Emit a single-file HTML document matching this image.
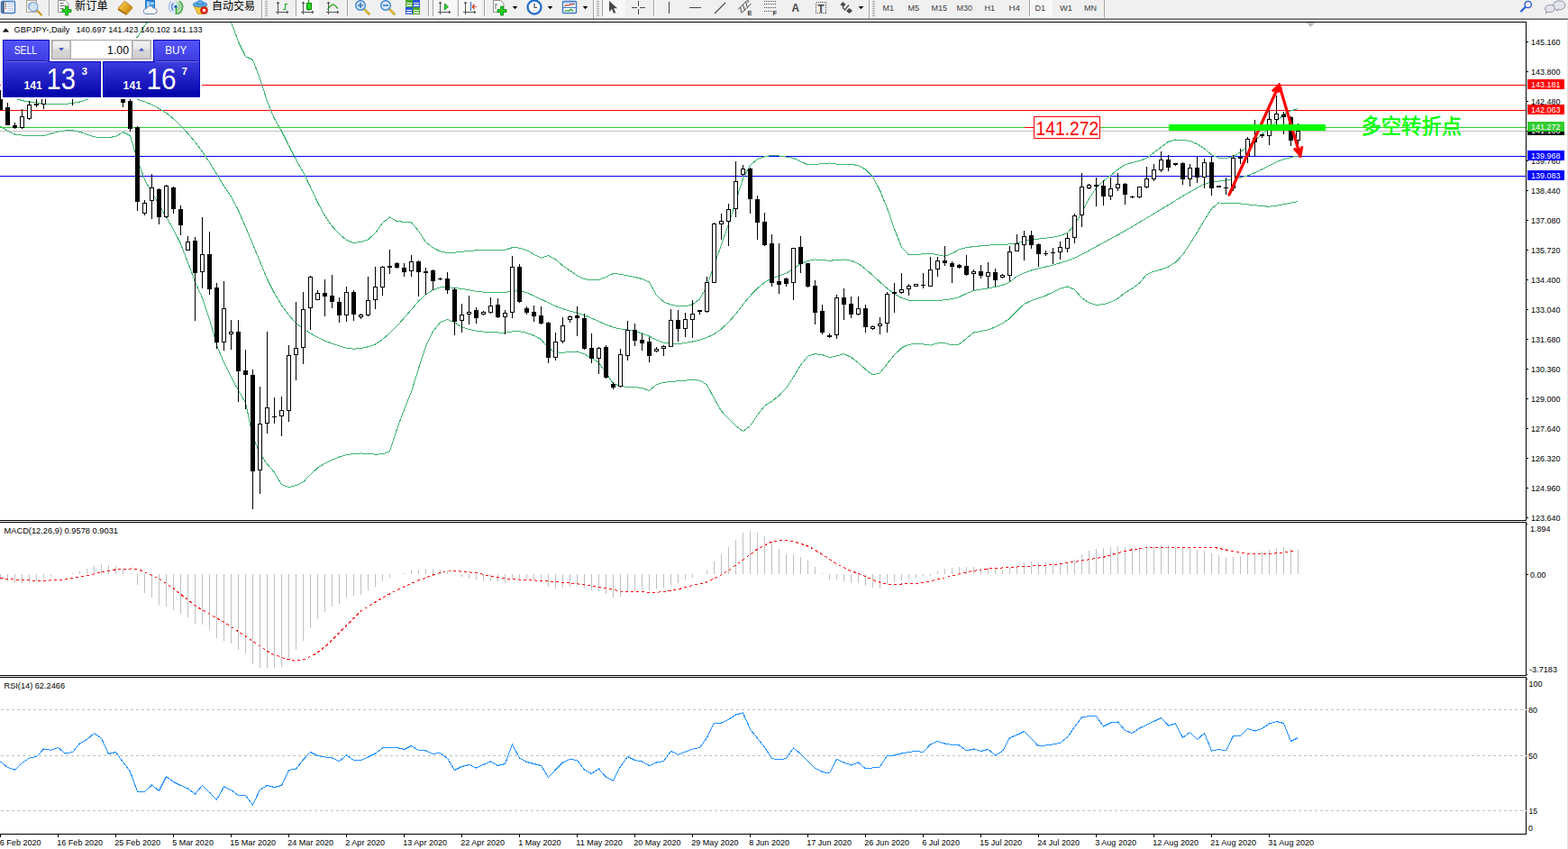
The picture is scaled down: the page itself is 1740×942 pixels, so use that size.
<!DOCTYPE html>
<html><head><meta charset="utf-8"><title>GBPJPY Daily</title>
<style>
html,body{margin:0;padding:0;background:#fff;}
body{width:1740px;height:942px;overflow:hidden;font-family:"Liberation Sans",sans-serif;}
svg{display:block;position:absolute;left:0;top:0;}
svg text{font-family:"Liberation Sans",sans-serif;}
</style></head><body>
<svg width="1740" height="942" viewBox="0 0 1740 942">
<rect x="0" y="0" width="1740" height="942" fill="#ffffff" />
<g shape-rendering="crispEdges">
<rect x="0" y="94" width="1694" height="1" fill="#ff0000"/>
<rect x="0" y="122" width="1694" height="1" fill="#ff0000"/>
<rect x="0" y="141" width="1694" height="1" fill="#32cd32"/>
<rect x="0" y="145" width="1694" height="1" fill="#c0c0c0"/>
<rect x="0" y="173" width="1694" height="1" fill="#0000ff"/>
<rect x="0" y="195" width="1694" height="1" fill="#0000ff"/>
<polyline points="0.5,66.5 8.5,66.5 16.5,66.4 24.5,66.2 32.5,65.9 40.5,65.5 48.5,65.0 56.5,64.4 64.5,63.7 72.5,62.8 80.5,61.8 88.5,60.6 96.5,59.2 104.5,57.6 112.5,55.9 120.5,53.9 128.5,51.7 136.5,49.3 144.5,46.6 152.5,41.2 160.5,28.7 164.0,24.5" fill="none" stroke="#3cb371" stroke-width="1" />
<polyline points="256.5,24.5 264.5,46.4 272.5,62.6 280.5,66.5 288.5,87.0 296.5,112.5 304.5,131.7 312.5,145.4 320.5,161.6 328.5,177.3 336.5,191.1 344.5,207.6 352.5,224.6 360.5,239.5 368.5,251.0 376.5,259.6 384.5,266.5 392.5,269.5 400.5,268.4 408.5,265.8 416.5,258.7 424.5,247.4 432.5,241.0 440.5,245.5 448.5,246.3 456.5,247.0 464.5,256.3 472.5,268.8 480.5,274.9 488.5,279.0 496.5,280.4 504.5,280.2 512.5,279.3 520.5,278.3 528.5,277.9 536.5,277.8 544.5,277.7 552.5,277.6 560.5,277.3 568.5,274.7 576.5,275.1 584.5,277.7 592.5,282.1 600.5,286.1 608.5,283.5 616.5,287.9 624.5,294.8 632.5,300.3 640.5,305.9 648.5,309.8 656.5,310.5 664.5,310.5 672.5,307.3 680.5,303.5 688.5,304.3 696.5,305.9 704.5,307.5 712.5,309.5 720.5,313.0 728.5,327.8 736.5,334.9 744.5,338.3 752.5,339.5 760.5,340.0 768.5,337.7 776.5,331.9 784.5,317.4 792.5,294.2 800.5,271.5 808.5,248.7 816.5,223.7 824.5,197.9 832.5,183.2 840.5,176.7 848.5,173.6 856.5,172.5 864.5,173.0 872.5,174.1 880.5,175.5 888.5,179.2 896.5,182.9 904.5,182.6 912.5,181.6 920.5,181.0 928.5,182.1 936.5,183.0 944.5,182.2 952.5,183.8 960.5,188.0 968.5,196.2 976.5,211.3 984.5,231.0 992.5,254.2 1000.5,274.2 1008.5,282.9 1016.5,282.6 1024.5,281.7 1032.5,281.2 1040.5,282.7 1048.5,284.2 1056.5,281.2 1064.5,276.7 1072.5,274.7 1080.5,273.6 1088.5,272.8 1096.5,272.1 1104.5,271.7 1112.5,271.4 1120.5,270.9 1128.5,270.0 1136.5,267.5 1144.5,265.9 1152.5,265.1 1160.5,264.2 1168.5,263.1 1176.5,261.6 1184.5,258.4 1192.5,249.7 1200.5,235.5 1208.5,220.5 1216.5,208.5 1224.5,200.7 1232.5,194.6 1240.5,188.0 1248.5,182.8 1256.5,180.4 1264.5,178.5 1272.5,175.5 1280.5,169.3 1288.5,163.3 1296.5,157.3 1304.5,155.0 1312.5,155.5 1320.5,156.5 1328.5,159.8 1336.5,164.9 1344.5,171.9 1352.5,175.1 1360.5,175.5 1368.5,173.7 1376.5,168.6 1384.5,162.5 1392.5,155.5 1400.5,148.9 1408.5,142.2 1416.5,134.5 1424.5,127.1 1432.5,122.9 1440.5,120.5" fill="none" stroke="#3cb371" stroke-width="1" />
<polyline points="0.5,104.5 8.5,106.4 16.5,109.0 24.5,111.7 32.5,112.9 40.5,113.8 48.5,114.8 56.5,115.5 64.5,115.5 72.5,115.5 80.5,114.5 88.5,113.0 96.5,110.5 104.5,108.3 112.5,106.2 120.5,104.8 128.5,104.6 136.5,105.8 144.5,107.8 152.5,110.2 160.5,112.9 168.5,116.3 176.5,120.5 184.5,125.3 192.5,131.7 200.5,139.4 208.5,147.9 216.5,157.6 224.5,168.3 232.5,180.0 240.5,193.2 248.5,206.3 256.5,218.3 264.5,233.3 272.5,251.9 280.5,270.9 288.5,290.3 296.5,309.5 304.5,325.5 312.5,338.7 320.5,349.6 328.5,358.7 336.5,365.0 344.5,369.9 352.5,374.3 360.5,378.1 368.5,381.1 376.5,383.9 384.5,386.2 392.5,387.2 400.5,386.5 408.5,384.8 416.5,382.1 424.5,376.6 432.5,369.6 440.5,361.7 448.5,352.7 456.5,343.6 464.5,334.1 472.5,326.8 480.5,321.8 488.5,318.7 496.5,318.7 504.5,319.4 512.5,320.4 520.5,321.8 528.5,323.2 536.5,324.1 544.5,324.2 552.5,324.2 560.5,324.2 568.5,323.5 576.5,322.5 584.5,324.6 592.5,328.4 600.5,332.1 608.5,335.8 616.5,339.6 624.5,342.7 632.5,345.1 640.5,347.2 648.5,349.7 656.5,353.1 664.5,356.8 672.5,360.1 680.5,363.2 688.5,365.0 696.5,365.9 704.5,367.4 712.5,370.0 720.5,373.0 728.5,377.2 736.5,380.2 744.5,381.2 752.5,381.5 760.5,380.6 768.5,379.0 776.5,377.1 784.5,374.4 792.5,370.8 800.5,365.0 808.5,357.5 816.5,348.5 824.5,337.9 832.5,328.3 840.5,319.9 848.5,313.3 856.5,308.8 864.5,306.0 872.5,303.2 880.5,298.2 888.5,292.5 896.5,289.5 904.5,288.0 912.5,288.5 920.5,289.2 928.5,288.7 936.5,288.0 944.5,289.2 952.5,292.5 960.5,298.6 968.5,305.6 976.5,313.0 984.5,319.9 992.5,326.2 1000.5,330.5 1008.5,333.3 1016.5,333.5 1024.5,333.5 1032.5,333.5 1040.5,333.5 1048.5,332.8 1056.5,331.7 1064.5,329.5 1072.5,325.6 1080.5,322.5 1088.5,321.1 1096.5,319.9 1104.5,318.4 1112.5,316.5 1120.5,312.7 1128.5,306.6 1136.5,302.8 1144.5,300.0 1152.5,297.9 1160.5,296.0 1168.5,294.1 1176.5,291.7 1184.5,289.2 1192.5,286.2 1200.5,282.4 1208.5,278.0 1216.5,273.6 1224.5,269.3 1232.5,264.9 1240.5,260.5 1248.5,256.0 1256.5,251.4 1264.5,246.7 1272.5,241.9 1280.5,237.1 1288.5,232.2 1296.5,227.4 1304.5,222.5 1312.5,217.6 1320.5,213.0 1328.5,208.4 1336.5,204.3 1344.5,202.2 1352.5,201.1 1360.5,200.0 1368.5,198.6 1376.5,197.0 1384.5,194.8 1392.5,191.6 1400.5,188.0 1408.5,183.8 1416.5,179.6 1424.5,176.7 1432.5,174.5 1440.5,173.0" fill="none" stroke="#3cb371" stroke-width="1" />
<polyline points="0.5,140.2 8.5,145.3 16.5,149.0 24.5,150.1 32.5,150.5 40.5,150.8 48.5,150.9 56.5,148.3 64.5,146.1 72.5,145.0 80.5,144.7 88.5,146.3 96.5,149.1 104.5,151.8 112.5,153.0 120.5,152.6 128.5,151.4 136.5,146.5 144.5,150.5 152.5,177.4 160.5,199.3 168.5,213.4 176.5,226.9 184.5,240.7 192.5,254.7 200.5,270.5 208.5,291.4 216.5,312.9 224.5,330.5 232.5,354.1 240.5,383.0 248.5,402.3 256.5,418.3 264.5,433.1 272.5,446.6 280.5,484.5 288.5,503.7 296.5,514.9 304.5,524.1 312.5,537.6 320.5,540.5 328.5,538.7 336.5,534.9 344.5,526.6 352.5,519.1 360.5,514.1 368.5,510.3 376.5,507.0 384.5,504.7 392.5,503.5 400.5,503.0 408.5,503.4 416.5,504.1 424.5,503.9 432.5,500.8 440.5,476.0 448.5,454.4 456.5,434.6 464.5,409.1 472.5,384.1 480.5,367.6 488.5,357.7 496.5,354.5 504.5,357.7 512.5,363.0 520.5,365.5 528.5,367.1 536.5,368.1 544.5,368.6 552.5,369.0 560.5,369.2 568.5,368.0 576.5,367.7 584.5,369.3 592.5,372.4 600.5,376.5 608.5,386.3 616.5,390.8 624.5,391.3 632.5,390.5 640.5,390.0 648.5,392.9 656.5,397.3 664.5,402.2 672.5,414.0 680.5,425.5 688.5,428.5 696.5,429.4 704.5,429.7 712.5,430.5 720.5,433.5 728.5,426.6 736.5,424.4 744.5,423.5 752.5,422.8 760.5,422.1 768.5,421.6 776.5,422.1 784.5,426.9 792.5,442.2 800.5,456.1 808.5,464.6 816.5,472.4 824.5,478.5 832.5,472.5 840.5,460.5 848.5,450.3 856.5,445.3 864.5,438.9 872.5,430.6 880.5,418.4 888.5,405.2 896.5,395.1 904.5,392.7 912.5,393.6 920.5,396.7 928.5,394.9 936.5,392.7 944.5,396.3 952.5,402.6 960.5,410.0 968.5,415.8 976.5,413.9 984.5,403.5 992.5,393.7 1000.5,386.0 1008.5,382.1 1016.5,381.8 1024.5,381.9 1032.5,383.1 1040.5,380.8 1048.5,380.7 1056.5,382.9 1064.5,381.9 1072.5,375.5 1080.5,368.9 1088.5,367.5 1096.5,365.9 1104.5,362.9 1112.5,358.9 1120.5,353.2 1128.5,344.9 1136.5,337.4 1144.5,333.6 1152.5,330.8 1160.5,328.0 1168.5,324.1 1176.5,320.1 1184.5,318.0 1192.5,321.2 1200.5,330.7 1208.5,335.9 1216.5,338.4 1224.5,337.7 1232.5,335.3 1240.5,331.1 1248.5,324.8 1256.5,320.1 1264.5,314.0 1272.5,304.5 1280.5,301.1 1288.5,299.0 1296.5,296.0 1304.5,291.0 1312.5,282.7 1320.5,270.5 1328.5,257.8 1336.5,244.5 1344.5,231.6 1352.5,225.0 1360.5,225.1 1368.5,225.4 1376.5,225.9 1384.5,226.8 1392.5,227.7 1400.5,228.7 1408.5,229.2 1416.5,228.3 1424.5,226.7 1432.5,225.2 1440.5,223.5" fill="none" stroke="#3cb371" stroke-width="1" />
<rect x="0" y="100" width="1" height="22" fill="#000"/>
<rect x="-2" y="104" width="5" height="18" fill="#000" />
<rect x="8" y="114" width="1" height="25" fill="#000"/>
<rect x="6" y="119" width="5" height="20" fill="#000" />
<rect x="16" y="136" width="1" height="7" fill="#000"/>
<rect x="14" y="139" width="5" height="3" fill="#000" />
<rect x="24" y="121" width="1" height="22" fill="#000"/>
<rect x="22" y="129" width="5" height="13" fill="#000" />
<rect x="23" y="130" width="3" height="11" fill="#fff" />
<rect x="32" y="112" width="1" height="21" fill="#000"/>
<rect x="30" y="116" width="5" height="16" fill="#000" />
<rect x="31" y="117" width="3" height="14" fill="#fff" />
<rect x="40" y="105" width="1" height="14" fill="#000"/>
<rect x="38" y="115" width="5" height="2" fill="#000" />
<rect x="48" y="98" width="1" height="23" fill="#000"/>
<rect x="46" y="100" width="5" height="16" fill="#000" />
<rect x="47" y="101" width="3" height="14" fill="#fff" />
<rect x="80" y="98" width="1" height="19" fill="#000"/>
<rect x="78" y="100" width="5" height="2" fill="#000" />
<rect x="136" y="98" width="1" height="21" fill="#000"/>
<rect x="134" y="100" width="5" height="14" fill="#000" />
<rect x="144" y="105" width="1" height="41" fill="#000"/>
<rect x="142" y="112" width="5" height="31" fill="#000" />
<rect x="152" y="140" width="1" height="94" fill="#000"/>
<rect x="150" y="141" width="5" height="83" fill="#000" />
<rect x="160" y="222" width="1" height="17" fill="#000"/>
<rect x="158" y="225" width="5" height="12" fill="#000" />
<rect x="159" y="226" width="3" height="10" fill="#fff" />
<rect x="168" y="193" width="1" height="50" fill="#000"/>
<rect x="166" y="208" width="5" height="15" fill="#000" />
<rect x="167" y="209" width="3" height="13" fill="#fff" />
<rect x="176" y="209" width="1" height="40" fill="#000"/>
<rect x="174" y="210" width="5" height="31" fill="#000" />
<rect x="184" y="205" width="1" height="37" fill="#000"/>
<rect x="182" y="206" width="5" height="35" fill="#000" />
<rect x="183" y="207" width="3" height="33" fill="#fff" />
<rect x="192" y="207" width="1" height="30" fill="#000"/>
<rect x="190" y="208" width="5" height="24" fill="#000" />
<rect x="200" y="228" width="1" height="33" fill="#000"/>
<rect x="198" y="232" width="5" height="18" fill="#000" />
<rect x="208" y="262" width="1" height="16" fill="#000"/>
<rect x="206" y="268" width="5" height="10" fill="#000" />
<rect x="207" y="269" width="3" height="8" fill="#fff" />
<rect x="216" y="263" width="1" height="93" fill="#000"/>
<rect x="214" y="267" width="5" height="36" fill="#000" />
<rect x="224" y="241" width="1" height="79" fill="#000"/>
<rect x="222" y="282" width="5" height="20" fill="#000" />
<rect x="223" y="283" width="3" height="18" fill="#fff" />
<rect x="232" y="257" width="1" height="70" fill="#000"/>
<rect x="230" y="282" width="5" height="39" fill="#000" />
<rect x="240" y="314" width="1" height="73" fill="#000"/>
<rect x="238" y="319" width="5" height="61" fill="#000" />
<rect x="248" y="312" width="1" height="77" fill="#000"/>
<rect x="246" y="342" width="5" height="38" fill="#000" />
<rect x="247" y="343" width="3" height="36" fill="#fff" />
<rect x="256" y="355" width="1" height="33" fill="#000"/>
<rect x="254" y="368" width="5" height="3" fill="#000" />
<rect x="255" y="369" width="3" height="1" fill="#fff" />
<rect x="264" y="355" width="1" height="91" fill="#000"/>
<rect x="262" y="368" width="5" height="44" fill="#000" />
<rect x="272" y="388" width="1" height="66" fill="#000"/>
<rect x="270" y="411" width="5" height="5" fill="#000" />
<rect x="280" y="410" width="1" height="155" fill="#000"/>
<rect x="278" y="416" width="5" height="107" fill="#000" />
<rect x="288" y="429" width="1" height="119" fill="#000"/>
<rect x="286" y="470" width="5" height="52" fill="#000" />
<rect x="287" y="471" width="3" height="50" fill="#fff" />
<rect x="296" y="368" width="1" height="113" fill="#000"/>
<rect x="294" y="452" width="5" height="18" fill="#000" />
<rect x="295" y="453" width="3" height="16" fill="#fff" />
<rect x="304" y="441" width="1" height="29" fill="#000"/>
<rect x="302" y="462" width="5" height="1" fill="#000" />
<rect x="312" y="440" width="1" height="44" fill="#000"/>
<rect x="310" y="455" width="5" height="7" fill="#000" />
<rect x="311" y="456" width="3" height="5" fill="#fff" />
<rect x="320" y="383" width="1" height="85" fill="#000"/>
<rect x="318" y="394" width="5" height="62" fill="#000" />
<rect x="319" y="395" width="3" height="60" fill="#fff" />
<rect x="328" y="335" width="1" height="87" fill="#000"/>
<rect x="326" y="386" width="5" height="8" fill="#000" />
<rect x="327" y="387" width="3" height="6" fill="#fff" />
<rect x="336" y="324" width="1" height="80" fill="#000"/>
<rect x="334" y="343" width="5" height="43" fill="#000" />
<rect x="335" y="344" width="3" height="41" fill="#fff" />
<rect x="344" y="306" width="1" height="60" fill="#000"/>
<rect x="342" y="307" width="5" height="35" fill="#000" />
<rect x="343" y="308" width="3" height="33" fill="#fff" />
<rect x="352" y="322" width="1" height="11" fill="#000"/>
<rect x="350" y="325" width="5" height="8" fill="#000" />
<rect x="351" y="326" width="3" height="6" fill="#fff" />
<rect x="360" y="310" width="1" height="41" fill="#000"/>
<rect x="358" y="325" width="5" height="4" fill="#000" />
<rect x="368" y="305" width="1" height="37" fill="#000"/>
<rect x="366" y="328" width="5" height="7" fill="#000" />
<rect x="376" y="330" width="1" height="28" fill="#000"/>
<rect x="374" y="335" width="5" height="15" fill="#000" />
<rect x="384" y="318" width="1" height="39" fill="#000"/>
<rect x="382" y="324" width="5" height="26" fill="#000" />
<rect x="383" y="325" width="3" height="24" fill="#fff" />
<rect x="392" y="322" width="1" height="34" fill="#000"/>
<rect x="390" y="324" width="5" height="25" fill="#000" />
<rect x="400" y="348" width="1" height="6" fill="#000"/>
<rect x="398" y="349" width="5" height="3" fill="#000" />
<rect x="399" y="350" width="3" height="1" fill="#fff" />
<rect x="408" y="307" width="1" height="44" fill="#000"/>
<rect x="406" y="333" width="5" height="17" fill="#000" />
<rect x="407" y="334" width="3" height="15" fill="#fff" />
<rect x="416" y="296" width="1" height="47" fill="#000"/>
<rect x="414" y="318" width="5" height="15" fill="#000" />
<rect x="415" y="319" width="3" height="13" fill="#fff" />
<rect x="424" y="295" width="1" height="33" fill="#000"/>
<rect x="422" y="296" width="5" height="23" fill="#000" />
<rect x="423" y="297" width="3" height="21" fill="#fff" />
<rect x="432" y="277" width="1" height="27" fill="#000"/>
<rect x="430" y="295" width="5" height="2" fill="#000" />
<rect x="440" y="291" width="1" height="7" fill="#000"/>
<rect x="438" y="292" width="5" height="5" fill="#000" />
<rect x="448" y="292" width="1" height="15" fill="#000"/>
<rect x="446" y="297" width="5" height="5" fill="#000" />
<rect x="456" y="283" width="1" height="24" fill="#000"/>
<rect x="454" y="290" width="5" height="11" fill="#000" />
<rect x="455" y="291" width="3" height="9" fill="#fff" />
<rect x="464" y="289" width="1" height="40" fill="#000"/>
<rect x="462" y="290" width="5" height="12" fill="#000" />
<rect x="472" y="297" width="1" height="30" fill="#000"/>
<rect x="470" y="301" width="5" height="2" fill="#000" />
<rect x="480" y="299" width="1" height="23" fill="#000"/>
<rect x="478" y="300" width="5" height="12" fill="#000" />
<rect x="488" y="308" width="1" height="3" fill="#000"/>
<rect x="486" y="309" width="5" height="1" fill="#000" />
<rect x="496" y="302" width="1" height="24" fill="#000"/>
<rect x="494" y="309" width="5" height="13" fill="#000" />
<rect x="504" y="319" width="1" height="53" fill="#000"/>
<rect x="502" y="321" width="5" height="36" fill="#000" />
<rect x="512" y="337" width="1" height="32" fill="#000"/>
<rect x="510" y="349" width="5" height="7" fill="#000" />
<rect x="511" y="350" width="3" height="5" fill="#fff" />
<rect x="520" y="328" width="1" height="32" fill="#000"/>
<rect x="518" y="346" width="5" height="3" fill="#000" />
<rect x="519" y="347" width="3" height="1" fill="#fff" />
<rect x="528" y="341" width="1" height="18" fill="#000"/>
<rect x="526" y="344" width="5" height="9" fill="#000" />
<rect x="536" y="345" width="1" height="5" fill="#000"/>
<rect x="534" y="346" width="5" height="3" fill="#000" />
<rect x="535" y="347" width="3" height="1" fill="#fff" />
<rect x="544" y="330" width="1" height="18" fill="#000"/>
<rect x="542" y="339" width="5" height="8" fill="#000" />
<rect x="543" y="340" width="3" height="6" fill="#fff" />
<rect x="552" y="331" width="1" height="22" fill="#000"/>
<rect x="550" y="338" width="5" height="14" fill="#000" />
<rect x="560" y="344" width="1" height="27" fill="#000"/>
<rect x="558" y="347" width="5" height="5" fill="#000" />
<rect x="559" y="348" width="3" height="3" fill="#fff" />
<rect x="568" y="284" width="1" height="69" fill="#000"/>
<rect x="566" y="296" width="5" height="51" fill="#000" />
<rect x="567" y="297" width="3" height="49" fill="#fff" />
<rect x="576" y="293" width="1" height="43" fill="#000"/>
<rect x="574" y="296" width="5" height="39" fill="#000" />
<rect x="584" y="340" width="1" height="9" fill="#000"/>
<rect x="582" y="342" width="5" height="5" fill="#000" />
<rect x="592" y="339" width="1" height="18" fill="#000"/>
<rect x="590" y="346" width="5" height="5" fill="#000" />
<rect x="600" y="340" width="1" height="20" fill="#000"/>
<rect x="598" y="350" width="5" height="9" fill="#000" />
<rect x="608" y="357" width="1" height="46" fill="#000"/>
<rect x="606" y="358" width="5" height="39" fill="#000" />
<rect x="616" y="369" width="1" height="31" fill="#000"/>
<rect x="614" y="379" width="5" height="18" fill="#000" />
<rect x="615" y="380" width="3" height="16" fill="#fff" />
<rect x="624" y="352" width="1" height="29" fill="#000"/>
<rect x="622" y="361" width="5" height="18" fill="#000" />
<rect x="623" y="362" width="3" height="16" fill="#fff" />
<rect x="632" y="350" width="1" height="8" fill="#000"/>
<rect x="630" y="351" width="5" height="4" fill="#000" />
<rect x="631" y="352" width="3" height="2" fill="#fff" />
<rect x="640" y="340" width="1" height="33" fill="#000"/>
<rect x="638" y="350" width="5" height="3" fill="#000" />
<rect x="648" y="348" width="1" height="40" fill="#000"/>
<rect x="646" y="353" width="5" height="34" fill="#000" />
<rect x="656" y="370" width="1" height="33" fill="#000"/>
<rect x="654" y="386" width="5" height="12" fill="#000" />
<rect x="664" y="385" width="1" height="30" fill="#000"/>
<rect x="662" y="386" width="5" height="12" fill="#000" />
<rect x="663" y="387" width="3" height="10" fill="#fff" />
<rect x="672" y="383" width="1" height="37" fill="#000"/>
<rect x="670" y="385" width="5" height="34" fill="#000" />
<rect x="680" y="424" width="1" height="8" fill="#000"/>
<rect x="678" y="426" width="5" height="4" fill="#000" />
<rect x="688" y="387" width="1" height="43" fill="#000"/>
<rect x="686" y="393" width="5" height="36" fill="#000" />
<rect x="687" y="394" width="3" height="34" fill="#fff" />
<rect x="696" y="356" width="1" height="44" fill="#000"/>
<rect x="694" y="366" width="5" height="29" fill="#000" />
<rect x="695" y="367" width="3" height="27" fill="#fff" />
<rect x="704" y="359" width="1" height="25" fill="#000"/>
<rect x="702" y="366" width="5" height="12" fill="#000" />
<rect x="712" y="370" width="1" height="19" fill="#000"/>
<rect x="710" y="377" width="5" height="4" fill="#000" />
<rect x="720" y="374" width="1" height="28" fill="#000"/>
<rect x="718" y="379" width="5" height="16" fill="#000" />
<rect x="728" y="385" width="1" height="6" fill="#000"/>
<rect x="726" y="387" width="5" height="3" fill="#000" />
<rect x="727" y="388" width="3" height="1" fill="#fff" />
<rect x="736" y="383" width="1" height="12" fill="#000"/>
<rect x="734" y="384" width="5" height="3" fill="#000" />
<rect x="735" y="385" width="3" height="1" fill="#fff" />
<rect x="744" y="343" width="1" height="42" fill="#000"/>
<rect x="742" y="355" width="5" height="30" fill="#000" />
<rect x="743" y="356" width="3" height="28" fill="#fff" />
<rect x="752" y="344" width="1" height="35" fill="#000"/>
<rect x="750" y="355" width="5" height="10" fill="#000" />
<rect x="760" y="347" width="1" height="27" fill="#000"/>
<rect x="758" y="354" width="5" height="11" fill="#000" />
<rect x="759" y="355" width="3" height="9" fill="#fff" />
<rect x="768" y="333" width="1" height="42" fill="#000"/>
<rect x="766" y="348" width="5" height="7" fill="#000" />
<rect x="767" y="349" width="3" height="5" fill="#fff" />
<rect x="776" y="344" width="1" height="5" fill="#000"/>
<rect x="774" y="344" width="5" height="2" fill="#000" />
<rect x="784" y="307" width="1" height="40" fill="#000"/>
<rect x="782" y="313" width="5" height="33" fill="#000" />
<rect x="783" y="314" width="3" height="31" fill="#fff" />
<rect x="792" y="247" width="1" height="67" fill="#000"/>
<rect x="790" y="248" width="5" height="66" fill="#000" />
<rect x="791" y="249" width="3" height="64" fill="#fff" />
<rect x="800" y="237" width="1" height="29" fill="#000"/>
<rect x="798" y="245" width="5" height="4" fill="#000" />
<rect x="799" y="246" width="3" height="2" fill="#fff" />
<rect x="808" y="226" width="1" height="47" fill="#000"/>
<rect x="806" y="232" width="5" height="14" fill="#000" />
<rect x="807" y="233" width="3" height="12" fill="#fff" />
<rect x="816" y="179" width="1" height="62" fill="#000"/>
<rect x="814" y="201" width="5" height="31" fill="#000" />
<rect x="815" y="202" width="3" height="29" fill="#fff" />
<rect x="824" y="183" width="1" height="12" fill="#000"/>
<rect x="822" y="187" width="5" height="7" fill="#000" />
<rect x="823" y="188" width="3" height="5" fill="#fff" />
<rect x="832" y="186" width="1" height="51" fill="#000"/>
<rect x="830" y="187" width="5" height="34" fill="#000" />
<rect x="840" y="217" width="1" height="49" fill="#000"/>
<rect x="838" y="221" width="5" height="26" fill="#000" />
<rect x="848" y="236" width="1" height="37" fill="#000"/>
<rect x="846" y="246" width="5" height="26" fill="#000" />
<rect x="856" y="260" width="1" height="58" fill="#000"/>
<rect x="854" y="270" width="5" height="44" fill="#000" />
<rect x="864" y="270" width="1" height="56" fill="#000"/>
<rect x="862" y="312" width="5" height="4" fill="#000" />
<rect x="872" y="308" width="1" height="10" fill="#000"/>
<rect x="870" y="309" width="5" height="6" fill="#000" />
<rect x="880" y="275" width="1" height="58" fill="#000"/>
<rect x="878" y="275" width="5" height="39" fill="#000" />
<rect x="879" y="276" width="3" height="37" fill="#fff" />
<rect x="888" y="262" width="1" height="41" fill="#000"/>
<rect x="886" y="274" width="5" height="19" fill="#000" />
<rect x="896" y="292" width="1" height="27" fill="#000"/>
<rect x="894" y="292" width="5" height="26" fill="#000" />
<rect x="904" y="311" width="1" height="49" fill="#000"/>
<rect x="902" y="317" width="5" height="30" fill="#000" />
<rect x="912" y="338" width="1" height="33" fill="#000"/>
<rect x="910" y="345" width="5" height="24" fill="#000" />
<rect x="920" y="370" width="1" height="5" fill="#000"/>
<rect x="918" y="372" width="5" height="2" fill="#000" />
<rect x="928" y="327" width="1" height="49" fill="#000"/>
<rect x="926" y="330" width="5" height="42" fill="#000" />
<rect x="927" y="331" width="3" height="40" fill="#fff" />
<rect x="936" y="320" width="1" height="35" fill="#000"/>
<rect x="934" y="330" width="5" height="8" fill="#000" />
<rect x="944" y="329" width="1" height="24" fill="#000"/>
<rect x="942" y="337" width="5" height="12" fill="#000" />
<rect x="952" y="329" width="1" height="21" fill="#000"/>
<rect x="950" y="342" width="5" height="7" fill="#000" />
<rect x="951" y="343" width="3" height="5" fill="#fff" />
<rect x="960" y="338" width="1" height="31" fill="#000"/>
<rect x="958" y="342" width="5" height="21" fill="#000" />
<rect x="968" y="361" width="1" height="5" fill="#000"/>
<rect x="966" y="362" width="5" height="3" fill="#000" />
<rect x="967" y="363" width="3" height="1" fill="#fff" />
<rect x="976" y="352" width="1" height="19" fill="#000"/>
<rect x="974" y="359" width="5" height="3" fill="#000" />
<rect x="975" y="360" width="3" height="1" fill="#fff" />
<rect x="984" y="324" width="1" height="45" fill="#000"/>
<rect x="982" y="326" width="5" height="33" fill="#000" />
<rect x="983" y="327" width="3" height="31" fill="#fff" />
<rect x="992" y="314" width="1" height="33" fill="#000"/>
<rect x="990" y="324" width="5" height="2" fill="#000" />
<rect x="1000" y="303" width="1" height="23" fill="#000"/>
<rect x="998" y="321" width="5" height="4" fill="#000" />
<rect x="999" y="322" width="3" height="2" fill="#fff" />
<rect x="1008" y="315" width="1" height="13" fill="#000"/>
<rect x="1006" y="317" width="5" height="4" fill="#000" />
<rect x="1007" y="318" width="3" height="2" fill="#fff" />
<rect x="1016" y="315" width="1" height="3" fill="#000"/>
<rect x="1014" y="315" width="5" height="3" fill="#000" />
<rect x="1015" y="316" width="3" height="1" fill="#fff" />
<rect x="1024" y="303" width="1" height="17" fill="#000"/>
<rect x="1022" y="316" width="5" height="1" fill="#000" />
<rect x="1032" y="285" width="1" height="33" fill="#000"/>
<rect x="1030" y="299" width="5" height="19" fill="#000" />
<rect x="1031" y="300" width="3" height="17" fill="#fff" />
<rect x="1040" y="285" width="1" height="22" fill="#000"/>
<rect x="1038" y="289" width="5" height="10" fill="#000" />
<rect x="1039" y="290" width="3" height="8" fill="#fff" />
<rect x="1048" y="273" width="1" height="22" fill="#000"/>
<rect x="1046" y="289" width="5" height="3" fill="#000" />
<rect x="1056" y="290" width="1" height="24" fill="#000"/>
<rect x="1054" y="292" width="5" height="4" fill="#000" />
<rect x="1064" y="293" width="1" height="5" fill="#000"/>
<rect x="1062" y="294" width="5" height="3" fill="#000" />
<rect x="1072" y="283" width="1" height="23" fill="#000"/>
<rect x="1070" y="295" width="5" height="10" fill="#000" />
<rect x="1080" y="299" width="1" height="23" fill="#000"/>
<rect x="1078" y="301" width="5" height="3" fill="#000" />
<rect x="1079" y="302" width="3" height="1" fill="#fff" />
<rect x="1088" y="294" width="1" height="15" fill="#000"/>
<rect x="1086" y="301" width="5" height="5" fill="#000" />
<rect x="1096" y="291" width="1" height="29" fill="#000"/>
<rect x="1094" y="302" width="5" height="5" fill="#000" />
<rect x="1095" y="303" width="3" height="3" fill="#fff" />
<rect x="1104" y="298" width="1" height="20" fill="#000"/>
<rect x="1102" y="302" width="5" height="9" fill="#000" />
<rect x="1112" y="304" width="1" height="5" fill="#000"/>
<rect x="1110" y="305" width="5" height="3" fill="#000" />
<rect x="1111" y="306" width="3" height="1" fill="#fff" />
<rect x="1120" y="273" width="1" height="39" fill="#000"/>
<rect x="1118" y="279" width="5" height="27" fill="#000" />
<rect x="1119" y="280" width="3" height="25" fill="#fff" />
<rect x="1128" y="260" width="1" height="19" fill="#000"/>
<rect x="1126" y="270" width="5" height="9" fill="#000" />
<rect x="1127" y="271" width="3" height="7" fill="#fff" />
<rect x="1136" y="256" width="1" height="33" fill="#000"/>
<rect x="1134" y="262" width="5" height="10" fill="#000" />
<rect x="1135" y="263" width="3" height="8" fill="#fff" />
<rect x="1144" y="256" width="1" height="20" fill="#000"/>
<rect x="1142" y="261" width="5" height="11" fill="#000" />
<rect x="1152" y="270" width="1" height="26" fill="#000"/>
<rect x="1150" y="271" width="5" height="11" fill="#000" />
<rect x="1160" y="278" width="1" height="6" fill="#000"/>
<rect x="1158" y="281" width="5" height="1" fill="#000" />
<rect x="1168" y="275" width="1" height="18" fill="#000"/>
<rect x="1166" y="280" width="5" height="1" fill="#000" />
<rect x="1176" y="268" width="1" height="20" fill="#000"/>
<rect x="1174" y="274" width="5" height="6" fill="#000" />
<rect x="1175" y="275" width="3" height="4" fill="#fff" />
<rect x="1184" y="259" width="1" height="21" fill="#000"/>
<rect x="1182" y="264" width="5" height="12" fill="#000" />
<rect x="1183" y="265" width="3" height="10" fill="#fff" />
<rect x="1192" y="237" width="1" height="33" fill="#000"/>
<rect x="1190" y="239" width="5" height="25" fill="#000" />
<rect x="1191" y="240" width="3" height="23" fill="#fff" />
<rect x="1200" y="192" width="1" height="60" fill="#000"/>
<rect x="1198" y="207" width="5" height="32" fill="#000" />
<rect x="1199" y="208" width="3" height="30" fill="#fff" />
<rect x="1208" y="204" width="1" height="6" fill="#000"/>
<rect x="1206" y="205" width="5" height="4" fill="#000" />
<rect x="1207" y="206" width="3" height="2" fill="#fff" />
<rect x="1216" y="197" width="1" height="32" fill="#000"/>
<rect x="1214" y="205" width="5" height="2" fill="#000" />
<rect x="1224" y="200" width="1" height="28" fill="#000"/>
<rect x="1222" y="206" width="5" height="12" fill="#000" />
<rect x="1232" y="197" width="1" height="25" fill="#000"/>
<rect x="1230" y="209" width="5" height="9" fill="#000" />
<rect x="1231" y="210" width="3" height="7" fill="#fff" />
<rect x="1240" y="192" width="1" height="20" fill="#000"/>
<rect x="1238" y="204" width="5" height="5" fill="#000" />
<rect x="1239" y="205" width="3" height="3" fill="#fff" />
<rect x="1248" y="203" width="1" height="24" fill="#000"/>
<rect x="1246" y="204" width="5" height="12" fill="#000" />
<rect x="1256" y="217" width="1" height="3" fill="#000"/>
<rect x="1254" y="218" width="5" height="1" fill="#000" />
<rect x="1264" y="207" width="1" height="13" fill="#000"/>
<rect x="1262" y="207" width="5" height="12" fill="#000" />
<rect x="1263" y="208" width="3" height="10" fill="#fff" />
<rect x="1272" y="185" width="1" height="24" fill="#000"/>
<rect x="1270" y="198" width="5" height="10" fill="#000" />
<rect x="1271" y="199" width="3" height="8" fill="#fff" />
<rect x="1280" y="182" width="1" height="19" fill="#000"/>
<rect x="1278" y="188" width="5" height="11" fill="#000" />
<rect x="1279" y="189" width="3" height="9" fill="#fff" />
<rect x="1288" y="168" width="1" height="23" fill="#000"/>
<rect x="1286" y="177" width="5" height="12" fill="#000" />
<rect x="1287" y="178" width="3" height="10" fill="#fff" />
<rect x="1296" y="172" width="1" height="18" fill="#000"/>
<rect x="1294" y="177" width="5" height="9" fill="#000" />
<rect x="1304" y="181" width="1" height="3" fill="#000"/>
<rect x="1302" y="181" width="5" height="2" fill="#000" />
<rect x="1312" y="180" width="1" height="25" fill="#000"/>
<rect x="1310" y="181" width="5" height="18" fill="#000" />
<rect x="1320" y="182" width="1" height="25" fill="#000"/>
<rect x="1318" y="186" width="5" height="13" fill="#000" />
<rect x="1319" y="187" width="3" height="11" fill="#fff" />
<rect x="1328" y="174" width="1" height="29" fill="#000"/>
<rect x="1326" y="186" width="5" height="11" fill="#000" />
<rect x="1336" y="176" width="1" height="33" fill="#000"/>
<rect x="1334" y="180" width="5" height="17" fill="#000" />
<rect x="1335" y="181" width="3" height="15" fill="#fff" />
<rect x="1344" y="174" width="1" height="43" fill="#000"/>
<rect x="1342" y="180" width="5" height="29" fill="#000" />
<rect x="1352" y="206" width="1" height="2" fill="#000"/>
<rect x="1350" y="206" width="5" height="2" fill="#000" />
<rect x="1360" y="197" width="1" height="19" fill="#000"/>
<rect x="1358" y="208" width="5" height="1" fill="#000" />
<rect x="1368" y="172" width="1" height="40" fill="#000"/>
<rect x="1366" y="175" width="5" height="34" fill="#000" />
<rect x="1367" y="176" width="3" height="32" fill="#fff" />
<rect x="1376" y="165" width="1" height="17" fill="#000"/>
<rect x="1374" y="174" width="5" height="2" fill="#000" />
<rect x="1384" y="152" width="1" height="29" fill="#000"/>
<rect x="1382" y="154" width="5" height="20" fill="#000" />
<rect x="1383" y="155" width="3" height="18" fill="#fff" />
<rect x="1392" y="133" width="1" height="40" fill="#000"/>
<rect x="1390" y="153" width="5" height="5" fill="#000" />
<rect x="1400" y="149" width="1" height="4" fill="#000"/>
<rect x="1398" y="149" width="5" height="2" fill="#000" />
<rect x="1408" y="123" width="1" height="38" fill="#000"/>
<rect x="1406" y="132" width="5" height="19" fill="#000" />
<rect x="1407" y="133" width="3" height="17" fill="#fff" />
<rect x="1416" y="106" width="1" height="32" fill="#000"/>
<rect x="1414" y="126" width="5" height="7" fill="#000" />
<rect x="1415" y="127" width="3" height="5" fill="#fff" />
<rect x="1424" y="124" width="1" height="25" fill="#000"/>
<rect x="1422" y="127" width="5" height="3" fill="#000" />
<rect x="1432" y="129" width="1" height="33" fill="#000"/>
<rect x="1430" y="130" width="5" height="26" fill="#000" />
<rect x="1440" y="137" width="1" height="24" fill="#000"/>
<rect x="1438" y="145" width="5" height="11" fill="#000" />
<rect x="1439" y="146" width="3" height="9" fill="#fff" />
</g>
<g stroke="#ff0000" stroke-width="3.2" fill="#ff0000" stroke-linecap="round" stroke-linejoin="round">
<path d="M1364 216 L1419.5 94 L1443 173.5" fill="none"/>
<path d="M1419.5 92.5 L1411.3 100.3 L1412.8 102 L1417 99.3 L1418.5 103 L1422 98.5 Z" stroke-width="1"/>
<path d="M1443.5 174.3 L1435.6 165.6 L1436.8 164.3 L1441.3 167 L1444.3 162.6 L1445.8 163 Z" stroke-width="1.2"/>
</g>
<rect x="1297" y="138" width="174" height="7" fill="#00ff00" shape-rendering="crispEdges"/>
<g shape-rendering="crispEdges">
<rect x="1137" y="141" width="11" height="1" fill="#ff0000"/>
<rect x="1147" y="129" width="74" height="25" fill="#ffffff" />
<rect x="1147.5" y="129.5" width="73" height="24" fill="none" stroke="#ff0000" stroke-width="1"/>
</g>
<text x="1149.6" y="150" font-size="22.3" fill="#ff0000" text-anchor="start" font-weight="normal" textLength="69.5" lengthAdjust="spacingAndGlyphs" >141.272</text>
<g shape-rendering="crispEdges">
<rect x="0" y="24" width="1694" height="1" fill="#000"/>
<rect x="1693" y="24" width="1" height="554" fill="#000"/>
<rect x="0" y="577" width="1694" height="1" fill="#000"/>
<rect x="0" y="579" width="1694" height="1" fill="#000"/>
<rect x="1693" y="579" width="1" height="171" fill="#000"/>
<rect x="0" y="749" width="1694" height="1" fill="#000"/>
<rect x="0" y="751" width="1694" height="1" fill="#000"/>
<rect x="1693" y="751" width="1" height="175" fill="#000"/>
<rect x="0" y="925" width="1694" height="1" fill="#000"/>
<rect x="1694" y="46" width="2" height="1" fill="#000"/>
<rect x="1694" y="79" width="2" height="1" fill="#000"/>
<rect x="1694" y="112" width="2" height="1" fill="#000"/>
<rect x="1694" y="145" width="2" height="1" fill="#000"/>
<rect x="1694" y="178" width="2" height="1" fill="#000"/>
<rect x="1694" y="211" width="2" height="1" fill="#000"/>
<rect x="1694" y="244" width="2" height="1" fill="#000"/>
<rect x="1694" y="277" width="2" height="1" fill="#000"/>
<rect x="1694" y="310" width="2" height="1" fill="#000"/>
<rect x="1694" y="343" width="2" height="1" fill="#000"/>
<rect x="1694" y="376" width="2" height="1" fill="#000"/>
<rect x="1694" y="409" width="2" height="1" fill="#000"/>
<rect x="1694" y="442" width="2" height="1" fill="#000"/>
<rect x="1694" y="475" width="2" height="1" fill="#000"/>
<rect x="1694" y="508" width="2" height="1" fill="#000"/>
<rect x="1694" y="541" width="2" height="1" fill="#000"/>
<rect x="1694" y="574" width="2" height="1" fill="#000"/>
</g>
<text x="1699" y="50" font-size="9.6" fill="#000" text-anchor="start" font-weight="normal" textLength="32.5" lengthAdjust="spacingAndGlyphs" >145.160</text>
<text x="1699" y="83" font-size="9.6" fill="#000" text-anchor="start" font-weight="normal" textLength="32.5" lengthAdjust="spacingAndGlyphs" >143.800</text>
<text x="1699" y="116" font-size="9.6" fill="#000" text-anchor="start" font-weight="normal" textLength="32.5" lengthAdjust="spacingAndGlyphs" >142.480</text>
<text x="1699" y="149" font-size="9.6" fill="#000" text-anchor="start" font-weight="normal" textLength="32.5" lengthAdjust="spacingAndGlyphs" >141.120</text>
<text x="1699" y="182" font-size="9.6" fill="#000" text-anchor="start" font-weight="normal" textLength="32.5" lengthAdjust="spacingAndGlyphs" >139.760</text>
<text x="1699" y="215" font-size="9.6" fill="#000" text-anchor="start" font-weight="normal" textLength="32.5" lengthAdjust="spacingAndGlyphs" >138.440</text>
<text x="1699" y="248" font-size="9.6" fill="#000" text-anchor="start" font-weight="normal" textLength="32.5" lengthAdjust="spacingAndGlyphs" >137.080</text>
<text x="1699" y="281" font-size="9.6" fill="#000" text-anchor="start" font-weight="normal" textLength="32.5" lengthAdjust="spacingAndGlyphs" >135.720</text>
<text x="1699" y="314" font-size="9.6" fill="#000" text-anchor="start" font-weight="normal" textLength="32.5" lengthAdjust="spacingAndGlyphs" >134.400</text>
<text x="1699" y="347" font-size="9.6" fill="#000" text-anchor="start" font-weight="normal" textLength="32.5" lengthAdjust="spacingAndGlyphs" >133.040</text>
<text x="1699" y="380" font-size="9.6" fill="#000" text-anchor="start" font-weight="normal" textLength="32.5" lengthAdjust="spacingAndGlyphs" >131.680</text>
<text x="1699" y="413" font-size="9.6" fill="#000" text-anchor="start" font-weight="normal" textLength="32.5" lengthAdjust="spacingAndGlyphs" >130.360</text>
<text x="1699" y="446" font-size="9.6" fill="#000" text-anchor="start" font-weight="normal" textLength="32.5" lengthAdjust="spacingAndGlyphs" >129.000</text>
<text x="1699" y="479" font-size="9.6" fill="#000" text-anchor="start" font-weight="normal" textLength="32.5" lengthAdjust="spacingAndGlyphs" >127.640</text>
<text x="1699" y="512" font-size="9.6" fill="#000" text-anchor="start" font-weight="normal" textLength="32.5" lengthAdjust="spacingAndGlyphs" >126.320</text>
<text x="1699" y="545" font-size="9.6" fill="#000" text-anchor="start" font-weight="normal" textLength="32.5" lengthAdjust="spacingAndGlyphs" >124.960</text>
<text x="1699" y="578" font-size="9.6" fill="#000" text-anchor="start" font-weight="normal" textLength="32.5" lengthAdjust="spacingAndGlyphs" >123.640</text>
<rect x="1695" y="139" width="41" height="11" fill="#000000" shape-rendering="crispEdges"/>
<text x="1699" y="148" font-size="9.6" fill="#fff" text-anchor="start" font-weight="normal" textLength="32.5" lengthAdjust="spacingAndGlyphs" >141.133</text>
<rect x="1695" y="88" width="41" height="11" fill="#ff0000" shape-rendering="crispEdges"/>
<text x="1699" y="97" font-size="9.6" fill="#fff" text-anchor="start" font-weight="normal" textLength="32.5" lengthAdjust="spacingAndGlyphs" >143.181</text>
<rect x="1695" y="116" width="41" height="11" fill="#ff0000" shape-rendering="crispEdges"/>
<text x="1699" y="125" font-size="9.6" fill="#fff" text-anchor="start" font-weight="normal" textLength="32.5" lengthAdjust="spacingAndGlyphs" >142.063</text>
<rect x="1695" y="135" width="41" height="11" fill="#32cd32" shape-rendering="crispEdges"/>
<text x="1699" y="144" font-size="9.6" fill="#fff" text-anchor="start" font-weight="normal" textLength="32.5" lengthAdjust="spacingAndGlyphs" >141.272</text>
<rect x="1695" y="167" width="41" height="11" fill="#0000ff" shape-rendering="crispEdges"/>
<text x="1699" y="176" font-size="9.6" fill="#fff" text-anchor="start" font-weight="normal" textLength="32.5" lengthAdjust="spacingAndGlyphs" >139.968</text>
<rect x="1695" y="189" width="41" height="11" fill="#0000ff" shape-rendering="crispEdges"/>
<text x="1699" y="198" font-size="9.6" fill="#fff" text-anchor="start" font-weight="normal" textLength="32.5" lengthAdjust="spacingAndGlyphs" >139.083</text>
<g shape-rendering="crispEdges">
<rect x="0" y="637" width="1" height="6" fill="#c0c0c0"/>
<rect x="8" y="637" width="1" height="8" fill="#c0c0c0"/>
<rect x="16" y="637" width="1" height="10" fill="#c0c0c0"/>
<rect x="24" y="637" width="1" height="10" fill="#c0c0c0"/>
<rect x="32" y="637" width="1" height="9" fill="#c0c0c0"/>
<rect x="40" y="637" width="1" height="8" fill="#c0c0c0"/>
<rect x="48" y="637" width="1" height="5" fill="#c0c0c0"/>
<rect x="56" y="637" width="1" height="3" fill="#c0c0c0"/>
<rect x="80" y="636" width="1" height="1" fill="#c0c0c0"/>
<rect x="88" y="634" width="1" height="3" fill="#c0c0c0"/>
<rect x="96" y="631" width="1" height="6" fill="#c0c0c0"/>
<rect x="104" y="628" width="1" height="9" fill="#c0c0c0"/>
<rect x="112" y="626" width="1" height="11" fill="#c0c0c0"/>
<rect x="120" y="627" width="1" height="10" fill="#c0c0c0"/>
<rect x="128" y="628" width="1" height="9" fill="#c0c0c0"/>
<rect x="136" y="631" width="1" height="6" fill="#c0c0c0"/>
<rect x="144" y="636" width="1" height="1" fill="#c0c0c0"/>
<rect x="152" y="637" width="1" height="12" fill="#c0c0c0"/>
<rect x="160" y="637" width="1" height="21" fill="#c0c0c0"/>
<rect x="168" y="637" width="1" height="26" fill="#c0c0c0"/>
<rect x="176" y="637" width="1" height="34" fill="#c0c0c0"/>
<rect x="184" y="637" width="1" height="36" fill="#c0c0c0"/>
<rect x="192" y="637" width="1" height="40" fill="#c0c0c0"/>
<rect x="200" y="637" width="1" height="44" fill="#c0c0c0"/>
<rect x="208" y="637" width="1" height="48" fill="#c0c0c0"/>
<rect x="216" y="637" width="1" height="55" fill="#c0c0c0"/>
<rect x="224" y="637" width="1" height="56" fill="#c0c0c0"/>
<rect x="232" y="637" width="1" height="62" fill="#c0c0c0"/>
<rect x="240" y="637" width="1" height="71" fill="#c0c0c0"/>
<rect x="248" y="637" width="1" height="74" fill="#c0c0c0"/>
<rect x="256" y="637" width="1" height="77" fill="#c0c0c0"/>
<rect x="264" y="637" width="1" height="84" fill="#c0c0c0"/>
<rect x="272" y="637" width="1" height="88" fill="#c0c0c0"/>
<rect x="280" y="637" width="1" height="100" fill="#c0c0c0"/>
<rect x="288" y="637" width="1" height="104" fill="#c0c0c0"/>
<rect x="296" y="637" width="1" height="104" fill="#c0c0c0"/>
<rect x="304" y="637" width="1" height="104" fill="#c0c0c0"/>
<rect x="312" y="637" width="1" height="103" fill="#c0c0c0"/>
<rect x="320" y="637" width="1" height="93" fill="#c0c0c0"/>
<rect x="328" y="637" width="1" height="84" fill="#c0c0c0"/>
<rect x="336" y="637" width="1" height="74" fill="#c0c0c0"/>
<rect x="344" y="637" width="1" height="60" fill="#c0c0c0"/>
<rect x="352" y="637" width="1" height="50" fill="#c0c0c0"/>
<rect x="360" y="637" width="1" height="42" fill="#c0c0c0"/>
<rect x="368" y="637" width="1" height="36" fill="#c0c0c0"/>
<rect x="376" y="637" width="1" height="33" fill="#c0c0c0"/>
<rect x="384" y="637" width="1" height="26" fill="#c0c0c0"/>
<rect x="392" y="637" width="1" height="24" fill="#c0c0c0"/>
<rect x="400" y="637" width="1" height="23" fill="#c0c0c0"/>
<rect x="408" y="637" width="1" height="18" fill="#c0c0c0"/>
<rect x="416" y="637" width="1" height="14" fill="#c0c0c0"/>
<rect x="424" y="637" width="1" height="8" fill="#c0c0c0"/>
<rect x="432" y="637" width="1" height="4" fill="#c0c0c0"/>
<rect x="448" y="636" width="1" height="1" fill="#c0c0c0"/>
<rect x="456" y="633" width="1" height="4" fill="#c0c0c0"/>
<rect x="464" y="632" width="1" height="5" fill="#c0c0c0"/>
<rect x="472" y="631" width="1" height="6" fill="#c0c0c0"/>
<rect x="480" y="632" width="1" height="5" fill="#c0c0c0"/>
<rect x="488" y="632" width="1" height="5" fill="#c0c0c0"/>
<rect x="496" y="633" width="1" height="4" fill="#c0c0c0"/>
<rect x="512" y="637" width="1" height="3" fill="#c0c0c0"/>
<rect x="520" y="637" width="1" height="5" fill="#c0c0c0"/>
<rect x="528" y="637" width="1" height="6" fill="#c0c0c0"/>
<rect x="536" y="637" width="1" height="8" fill="#c0c0c0"/>
<rect x="544" y="637" width="1" height="8" fill="#c0c0c0"/>
<rect x="552" y="637" width="1" height="8" fill="#c0c0c0"/>
<rect x="560" y="637" width="1" height="10" fill="#c0c0c0"/>
<rect x="568" y="637" width="1" height="5" fill="#c0c0c0"/>
<rect x="576" y="637" width="1" height="5" fill="#c0c0c0"/>
<rect x="584" y="637" width="1" height="6" fill="#c0c0c0"/>
<rect x="592" y="637" width="1" height="6" fill="#c0c0c0"/>
<rect x="600" y="637" width="1" height="9" fill="#c0c0c0"/>
<rect x="608" y="637" width="1" height="14" fill="#c0c0c0"/>
<rect x="616" y="637" width="1" height="16" fill="#c0c0c0"/>
<rect x="624" y="637" width="1" height="15" fill="#c0c0c0"/>
<rect x="632" y="637" width="1" height="14" fill="#c0c0c0"/>
<rect x="640" y="637" width="1" height="13" fill="#c0c0c0"/>
<rect x="648" y="637" width="1" height="15" fill="#c0c0c0"/>
<rect x="656" y="637" width="1" height="18" fill="#c0c0c0"/>
<rect x="664" y="637" width="1" height="19" fill="#c0c0c0"/>
<rect x="672" y="637" width="1" height="22" fill="#c0c0c0"/>
<rect x="680" y="637" width="1" height="26" fill="#c0c0c0"/>
<rect x="688" y="637" width="1" height="25" fill="#c0c0c0"/>
<rect x="696" y="637" width="1" height="20" fill="#c0c0c0"/>
<rect x="704" y="637" width="1" height="19" fill="#c0c0c0"/>
<rect x="712" y="637" width="1" height="18" fill="#c0c0c0"/>
<rect x="720" y="637" width="1" height="18" fill="#c0c0c0"/>
<rect x="728" y="637" width="1" height="16" fill="#c0c0c0"/>
<rect x="736" y="637" width="1" height="15" fill="#c0c0c0"/>
<rect x="744" y="637" width="1" height="12" fill="#c0c0c0"/>
<rect x="752" y="637" width="1" height="10" fill="#c0c0c0"/>
<rect x="760" y="637" width="1" height="6" fill="#c0c0c0"/>
<rect x="768" y="637" width="1" height="4" fill="#c0c0c0"/>
<rect x="784" y="633" width="1" height="4" fill="#c0c0c0"/>
<rect x="792" y="623" width="1" height="14" fill="#c0c0c0"/>
<rect x="800" y="615" width="1" height="22" fill="#c0c0c0"/>
<rect x="808" y="607" width="1" height="30" fill="#c0c0c0"/>
<rect x="816" y="599" width="1" height="38" fill="#c0c0c0"/>
<rect x="824" y="591" width="1" height="46" fill="#c0c0c0"/>
<rect x="832" y="589" width="1" height="48" fill="#c0c0c0"/>
<rect x="840" y="591" width="1" height="46" fill="#c0c0c0"/>
<rect x="848" y="595" width="1" height="42" fill="#c0c0c0"/>
<rect x="856" y="602" width="1" height="35" fill="#c0c0c0"/>
<rect x="864" y="609" width="1" height="28" fill="#c0c0c0"/>
<rect x="872" y="615" width="1" height="22" fill="#c0c0c0"/>
<rect x="880" y="615" width="1" height="22" fill="#c0c0c0"/>
<rect x="888" y="618" width="1" height="19" fill="#c0c0c0"/>
<rect x="896" y="622" width="1" height="15" fill="#c0c0c0"/>
<rect x="904" y="629" width="1" height="8" fill="#c0c0c0"/>
<rect x="912" y="636" width="1" height="1" fill="#c0c0c0"/>
<rect x="920" y="637" width="1" height="6" fill="#c0c0c0"/>
<rect x="928" y="637" width="1" height="6" fill="#c0c0c0"/>
<rect x="936" y="637" width="1" height="8" fill="#c0c0c0"/>
<rect x="944" y="637" width="1" height="10" fill="#c0c0c0"/>
<rect x="952" y="637" width="1" height="10" fill="#c0c0c0"/>
<rect x="960" y="637" width="1" height="13" fill="#c0c0c0"/>
<rect x="968" y="637" width="1" height="15" fill="#c0c0c0"/>
<rect x="976" y="637" width="1" height="16" fill="#c0c0c0"/>
<rect x="984" y="637" width="1" height="12" fill="#c0c0c0"/>
<rect x="992" y="637" width="1" height="9" fill="#c0c0c0"/>
<rect x="1000" y="637" width="1" height="7" fill="#c0c0c0"/>
<rect x="1008" y="637" width="1" height="5" fill="#c0c0c0"/>
<rect x="1016" y="637" width="1" height="4" fill="#c0c0c0"/>
<rect x="1024" y="637" width="1" height="2" fill="#c0c0c0"/>
<rect x="1032" y="637" width="1" height="2" fill="#c0c0c0"/>
<rect x="1040" y="634" width="1" height="3" fill="#c0c0c0"/>
<rect x="1048" y="631" width="1" height="6" fill="#c0c0c0"/>
<rect x="1056" y="630" width="1" height="7" fill="#c0c0c0"/>
<rect x="1064" y="629" width="1" height="8" fill="#c0c0c0"/>
<rect x="1072" y="629" width="1" height="8" fill="#c0c0c0"/>
<rect x="1080" y="629" width="1" height="8" fill="#c0c0c0"/>
<rect x="1088" y="630" width="1" height="7" fill="#c0c0c0"/>
<rect x="1096" y="630" width="1" height="7" fill="#c0c0c0"/>
<rect x="1104" y="630" width="1" height="7" fill="#c0c0c0"/>
<rect x="1112" y="632" width="1" height="5" fill="#c0c0c0"/>
<rect x="1120" y="630" width="1" height="7" fill="#c0c0c0"/>
<rect x="1128" y="627" width="1" height="10" fill="#c0c0c0"/>
<rect x="1136" y="624" width="1" height="13" fill="#c0c0c0"/>
<rect x="1144" y="623" width="1" height="14" fill="#c0c0c0"/>
<rect x="1152" y="624" width="1" height="13" fill="#c0c0c0"/>
<rect x="1160" y="624" width="1" height="13" fill="#c0c0c0"/>
<rect x="1168" y="625" width="1" height="12" fill="#c0c0c0"/>
<rect x="1176" y="624" width="1" height="13" fill="#c0c0c0"/>
<rect x="1184" y="624" width="1" height="13" fill="#c0c0c0"/>
<rect x="1192" y="621" width="1" height="16" fill="#c0c0c0"/>
<rect x="1200" y="615" width="1" height="22" fill="#c0c0c0"/>
<rect x="1208" y="611" width="1" height="26" fill="#c0c0c0"/>
<rect x="1216" y="609" width="1" height="28" fill="#c0c0c0"/>
<rect x="1224" y="608" width="1" height="29" fill="#c0c0c0"/>
<rect x="1232" y="607" width="1" height="30" fill="#c0c0c0"/>
<rect x="1240" y="606" width="1" height="31" fill="#c0c0c0"/>
<rect x="1248" y="607" width="1" height="30" fill="#c0c0c0"/>
<rect x="1256" y="608" width="1" height="29" fill="#c0c0c0"/>
<rect x="1264" y="608" width="1" height="29" fill="#c0c0c0"/>
<rect x="1272" y="606" width="1" height="31" fill="#c0c0c0"/>
<rect x="1280" y="606" width="1" height="31" fill="#c0c0c0"/>
<rect x="1288" y="605" width="1" height="32" fill="#c0c0c0"/>
<rect x="1296" y="605" width="1" height="32" fill="#c0c0c0"/>
<rect x="1304" y="606" width="1" height="31" fill="#c0c0c0"/>
<rect x="1312" y="608" width="1" height="29" fill="#c0c0c0"/>
<rect x="1320" y="608" width="1" height="29" fill="#c0c0c0"/>
<rect x="1328" y="610" width="1" height="27" fill="#c0c0c0"/>
<rect x="1336" y="611" width="1" height="26" fill="#c0c0c0"/>
<rect x="1344" y="614" width="1" height="23" fill="#c0c0c0"/>
<rect x="1352" y="616" width="1" height="21" fill="#c0c0c0"/>
<rect x="1360" y="619" width="1" height="18" fill="#c0c0c0"/>
<rect x="1368" y="618" width="1" height="19" fill="#c0c0c0"/>
<rect x="1376" y="617" width="1" height="20" fill="#c0c0c0"/>
<rect x="1384" y="615" width="1" height="22" fill="#c0c0c0"/>
<rect x="1392" y="614" width="1" height="23" fill="#c0c0c0"/>
<rect x="1400" y="612" width="1" height="25" fill="#c0c0c0"/>
<rect x="1408" y="610" width="1" height="27" fill="#c0c0c0"/>
<rect x="1416" y="608" width="1" height="29" fill="#c0c0c0"/>
<rect x="1424" y="607" width="1" height="30" fill="#c0c0c0"/>
<rect x="1432" y="609" width="1" height="28" fill="#c0c0c0"/>
<rect x="1440" y="610" width="1" height="27" fill="#c0c0c0"/>
<polyline points="0.5,641.5 15.5,643.0 43.0,644.5 68.0,643.5 100.5,638.0 113.0,634.5 130.5,631.5 145.5,631.0 155.5,632.5 175.5,641.5 190.5,651.5 218.0,673.0 250.5,691.5 275.5,708.0 300.5,725.0 315.5,730.5 328.0,733.5 338.0,731.5 350.5,725.5 363.0,715.5 380.5,698.0 400.5,678.0 420.5,665.5 438.0,656.0 450.5,650.0 465.5,643.5 485.5,636.2 500.5,633.5 515.5,634.2 530.5,636.0 548.0,640.0 565.5,642.5 585.5,643.5 610.5,645.0 635.5,647.2 660.5,650.5 678.0,653.5 688.0,656.0 710.5,656.5 725.5,657.5 740.5,656.2 755.5,653.0 770.5,649.2 783.0,646.2 795.5,640.5 810.5,631.5 825.5,620.5 840.5,609.2 855.5,601.5 865.5,599.5 870.5,599.5 883.0,601.5 898.0,606.5 913.0,615.5 928.0,625.5 943.0,633.0 958.0,638.5 970.5,644.2 983.0,648.0 1000.5,648.0 1020.5,647.2 1035.5,644.2 1055.5,639.2 1075.5,634.2 1095.5,631.0 1120.5,629.5 1145.5,628.0 1170.5,626.5 1195.5,623.0 1210.5,620.5 1225.5,618.0 1240.5,613.5 1255.5,610.0 1275.5,607.5 1295.5,607.0 1330.5,607.0 1350.5,608.0 1368.0,611.5 1383.0,614.2 1395.5,615.0 1410.5,614.5 1423.0,613.0 1436.5,611.2" fill="none" stroke="#ff0000" stroke-width="1" stroke-dasharray="3 3"/>
<rect x="1694" y="581" width="1" height="1" fill="#000"/>
<rect x="1694" y="637" width="2" height="1" fill="#000"/>
<rect x="1694" y="748" width="1" height="1" fill="#000"/>
</g>
<text x="1698" y="590" font-size="9.6" fill="#000" text-anchor="start" font-weight="normal" textLength="22.5" lengthAdjust="spacingAndGlyphs" >1.894</text>
<text x="1698" y="641" font-size="9.6" fill="#000" text-anchor="start" font-weight="normal" textLength="17.5" lengthAdjust="spacingAndGlyphs" >0.00</text>
<text x="1697" y="746" font-size="9.6" fill="#000" text-anchor="start" font-weight="normal" textLength="31" lengthAdjust="spacingAndGlyphs" >-3.7183</text>
<text x="4.5" y="592" font-size="9.6" fill="#000" text-anchor="start" font-weight="normal" textLength="126.5" lengthAdjust="spacingAndGlyphs" >MACD(12,26,9) 0.9578 0.9031</text>
<g shape-rendering="crispEdges">
<line x1="1" y1="787.5" x2="1693" y2="787.5" stroke="#c0c0c0" stroke-width="1" stroke-dasharray="3 3"/>
<line x1="1" y1="838.5" x2="1693" y2="838.5" stroke="#c0c0c0" stroke-width="1" stroke-dasharray="3 3"/>
<line x1="1" y1="899.5" x2="1693" y2="899.5" stroke="#c0c0c0" stroke-width="1" stroke-dasharray="3 3"/>
<rect x="1694" y="753" width="1" height="1" fill="#000"/>
<polyline points="0.5,845.0 8.5,851.5 16.5,854.2 24.5,846.5 32.5,841.2 40.5,839.5 48.5,831.0 56.5,832.2 64.5,829.5 72.5,836.0 80.5,834.5 88.5,825.0 96.5,820.5 104.5,813.5 112.5,819.2 120.5,836.5 128.5,834.5 136.5,845.5 144.5,856.2 152.5,878.5 160.5,878.5 168.5,871.0 176.5,877.5 184.5,861.5 192.5,867.5 200.5,871.5 208.5,875.0 216.5,881.0 224.5,871.5 232.5,879.2 240.5,887.2 248.5,873.0 256.5,876.5 264.5,882.5 272.5,882.5 280.5,893.0 288.5,876.2 296.5,871.5 304.5,873.5 312.5,871.5 320.5,854.5 328.5,853.0 336.5,843.0 344.5,834.5 352.5,838.5 360.5,840.0 368.5,841.0 376.5,844.5 384.5,838.0 392.5,843.5 400.5,843.5 408.5,840.0 416.5,836.0 424.5,830.0 432.5,829.5 440.5,829.5 448.5,831.5 456.5,827.5 464.5,832.5 472.5,833.0 480.5,836.5 488.5,835.5 496.5,841.5 504.5,854.5 512.5,850.5 520.5,848.5 528.5,852.0 536.5,848.5 544.5,845.0 552.5,849.5 560.5,847.5 568.5,826.0 576.5,841.2 584.5,845.5 592.5,847.5 600.5,849.5 608.5,862.5 616.5,854.2 624.5,846.0 632.5,842.5 640.5,843.5 648.5,854.2 656.5,858.5 664.5,853.0 672.5,862.2 680.5,866.0 688.5,850.5 696.5,839.5 704.5,843.5 712.5,845.0 720.5,849.5 728.5,846.0 736.5,844.5 744.5,833.5 752.5,837.2 760.5,834.2 768.5,831.2 776.5,829.5 784.5,818.5 792.5,802.0 800.5,802.0 808.5,798.5 816.5,793.0 824.5,791.0 832.5,809.2 840.5,819.2 848.5,829.2 856.5,841.5 864.5,843.0 872.5,841.5 880.5,830.0 888.5,836.5 896.5,844.5 904.5,852.2 912.5,856.5 920.5,858.0 928.5,842.5 936.5,846.0 944.5,849.0 952.5,846.0 960.5,853.0 968.5,852.0 976.5,851.0 984.5,838.0 992.5,838.0 1000.5,836.0 1008.5,834.5 1016.5,833.5 1024.5,834.5 1032.5,826.0 1040.5,822.5 1048.5,825.0 1056.5,826.5 1064.5,827.0 1072.5,833.0 1080.5,831.0 1088.5,833.5 1096.5,831.5 1104.5,838.0 1112.5,833.5 1120.5,818.5 1128.5,815.5 1136.5,811.5 1144.5,819.5 1152.5,828.0 1160.5,827.0 1168.5,826.0 1176.5,824.2 1184.5,818.0 1192.5,806.5 1200.5,796.0 1208.5,794.5 1216.5,794.5 1224.5,806.0 1232.5,802.0 1240.5,801.0 1248.5,810.5 1256.5,813.5 1264.5,808.0 1272.5,804.2 1280.5,800.5 1288.5,796.5 1296.5,805.0 1304.5,803.0 1312.5,818.5 1320.5,812.5 1328.5,820.5 1336.5,813.5 1344.5,833.0 1352.5,831.5 1360.5,833.0 1368.5,816.5 1376.5,816.5 1384.5,808.5 1392.5,811.0 1400.5,808.5 1408.5,803.0 1416.5,800.5 1424.5,802.5 1432.5,822.5 1440.5,818.5" fill="none" stroke="#1e90ff" stroke-width="1" />
</g>
<g shape-rendering="crispEdges">
<rect x="1693" y="787" width="1" height="1" fill="#fff" />
<rect x="1693" y="838" width="1" height="1" fill="#fff" />
<rect x="1693" y="899" width="1" height="1" fill="#fff" />
</g>
<text x="1696.5" y="762" font-size="9.6" fill="#000" text-anchor="start" font-weight="normal" textLength="15" lengthAdjust="spacingAndGlyphs" >100</text>
<text x="1696" y="791" font-size="9.6" fill="#000" text-anchor="start" font-weight="normal" textLength="10" lengthAdjust="spacingAndGlyphs" >80</text>
<text x="1696" y="842" font-size="9.6" fill="#000" text-anchor="start" font-weight="normal" textLength="10" lengthAdjust="spacingAndGlyphs" >50</text>
<text x="1696.5" y="903" font-size="9.6" fill="#000" text-anchor="start" font-weight="normal" textLength="9.5" lengthAdjust="spacingAndGlyphs" >15</text>
<text x="1696" y="922" font-size="9.6" fill="#000" text-anchor="start" font-weight="normal" textLength="5" lengthAdjust="spacingAndGlyphs" >0</text>
<text x="4.5" y="764" font-size="9.6" fill="#000" text-anchor="start" font-weight="normal" textLength="67.5" lengthAdjust="spacingAndGlyphs" >RSI(14) 62.2466</text>
<g shape-rendering="crispEdges">
<rect x="0" y="926" width="1" height="3" fill="#000"/>
<rect x="64" y="926" width="1" height="3" fill="#000"/>
<rect x="128" y="926" width="1" height="3" fill="#000"/>
<rect x="192" y="926" width="1" height="3" fill="#000"/>
<rect x="256" y="926" width="1" height="3" fill="#000"/>
<rect x="320" y="926" width="1" height="3" fill="#000"/>
<rect x="384" y="926" width="1" height="3" fill="#000"/>
<rect x="448" y="926" width="1" height="3" fill="#000"/>
<rect x="512" y="926" width="1" height="3" fill="#000"/>
<rect x="576" y="926" width="1" height="3" fill="#000"/>
<rect x="640" y="926" width="1" height="3" fill="#000"/>
<rect x="704" y="926" width="1" height="3" fill="#000"/>
<rect x="768" y="926" width="1" height="3" fill="#000"/>
<rect x="832" y="926" width="1" height="3" fill="#000"/>
<rect x="896" y="926" width="1" height="3" fill="#000"/>
<rect x="960" y="926" width="1" height="3" fill="#000"/>
<rect x="1024" y="926" width="1" height="3" fill="#000"/>
<rect x="1088" y="926" width="1" height="3" fill="#000"/>
<rect x="1152" y="926" width="1" height="3" fill="#000"/>
<rect x="1216" y="926" width="1" height="3" fill="#000"/>
<rect x="1280" y="926" width="1" height="3" fill="#000"/>
<rect x="1344" y="926" width="1" height="3" fill="#000"/>
<rect x="1408" y="926" width="1" height="3" fill="#000"/>
</g>
<text x="-0.20000000000000284" y="938" font-size="9.6" fill="#000" text-anchor="start" font-weight="normal" textLength="45.7" lengthAdjust="spacingAndGlyphs" >6 Feb 2020</text>
<text x="63.3" y="938" font-size="9.6" fill="#000" text-anchor="start" font-weight="normal" textLength="50.7" lengthAdjust="spacingAndGlyphs" >16 Feb 2020</text>
<text x="127.3" y="938" font-size="9.6" fill="#000" text-anchor="start" font-weight="normal" textLength="50.7" lengthAdjust="spacingAndGlyphs" >25 Feb 2020</text>
<text x="191.3" y="938" font-size="9.6" fill="#000" text-anchor="start" font-weight="normal" textLength="45.6" lengthAdjust="spacingAndGlyphs" >5 Mar 2020</text>
<text x="255.3" y="938" font-size="9.6" fill="#000" text-anchor="start" font-weight="normal" textLength="50.7" lengthAdjust="spacingAndGlyphs" >15 Mar 2020</text>
<text x="319.3" y="938" font-size="9.6" fill="#000" text-anchor="start" font-weight="normal" textLength="50.7" lengthAdjust="spacingAndGlyphs" >24 Mar 2020</text>
<text x="383.3" y="938" font-size="9.6" fill="#000" text-anchor="start" font-weight="normal" textLength="43.7" lengthAdjust="spacingAndGlyphs" >2 Apr 2020</text>
<text x="447.3" y="938" font-size="9.6" fill="#000" text-anchor="start" font-weight="normal" textLength="48.7" lengthAdjust="spacingAndGlyphs" >13 Apr 2020</text>
<text x="511.3" y="938" font-size="9.6" fill="#000" text-anchor="start" font-weight="normal" textLength="48.7" lengthAdjust="spacingAndGlyphs" >22 Apr 2020</text>
<text x="575.3" y="938" font-size="9.6" fill="#000" text-anchor="start" font-weight="normal" textLength="47.2" lengthAdjust="spacingAndGlyphs" >1 May 2020</text>
<text x="639.3" y="938" font-size="9.6" fill="#000" text-anchor="start" font-weight="normal" textLength="51.5" lengthAdjust="spacingAndGlyphs" >11 May 2020</text>
<text x="703.3" y="938" font-size="9.6" fill="#000" text-anchor="start" font-weight="normal" textLength="52.2" lengthAdjust="spacingAndGlyphs" >20 May 2020</text>
<text x="767.3" y="938" font-size="9.6" fill="#000" text-anchor="start" font-weight="normal" textLength="52.2" lengthAdjust="spacingAndGlyphs" >29 May 2020</text>
<text x="831.3" y="938" font-size="9.6" fill="#000" text-anchor="start" font-weight="normal" textLength="44.7" lengthAdjust="spacingAndGlyphs" >8 Jun 2020</text>
<text x="895.3" y="938" font-size="9.6" fill="#000" text-anchor="start" font-weight="normal" textLength="49.7" lengthAdjust="spacingAndGlyphs" >17 Jun 2020</text>
<text x="959.3" y="938" font-size="9.6" fill="#000" text-anchor="start" font-weight="normal" textLength="49.7" lengthAdjust="spacingAndGlyphs" >26 Jun 2020</text>
<text x="1023.3" y="938" font-size="9.6" fill="#000" text-anchor="start" font-weight="normal" textLength="41.6" lengthAdjust="spacingAndGlyphs" >6 Jul 2020</text>
<text x="1087.3" y="938" font-size="9.6" fill="#000" text-anchor="start" font-weight="normal" textLength="46.7" lengthAdjust="spacingAndGlyphs" >15 Jul 2020</text>
<text x="1151.3" y="938" font-size="9.6" fill="#000" text-anchor="start" font-weight="normal" textLength="46.7" lengthAdjust="spacingAndGlyphs" >24 Jul 2020</text>
<text x="1215.3" y="938" font-size="9.6" fill="#000" text-anchor="start" font-weight="normal" textLength="45.7" lengthAdjust="spacingAndGlyphs" >3 Aug 2020</text>
<text x="1279.3" y="938" font-size="9.6" fill="#000" text-anchor="start" font-weight="normal" textLength="50.7" lengthAdjust="spacingAndGlyphs" >12 Aug 2020</text>
<text x="1343.3" y="938" font-size="9.6" fill="#000" text-anchor="start" font-weight="normal" textLength="50.7" lengthAdjust="spacingAndGlyphs" >21 Aug 2020</text>
<text x="1407.3" y="938" font-size="9.6" fill="#000" text-anchor="start" font-weight="normal" textLength="50.7" lengthAdjust="spacingAndGlyphs" >31 Aug 2020</text>
<g shape-rendering="crispEdges">
<rect x="1450" y="25" width="9" height="1" fill="#c0c0c0" />
<rect x="1451" y="26" width="7" height="1" fill="#c0c0c0" />
<rect x="1452" y="27" width="5" height="1" fill="#c0c0c0" />
<rect x="1453" y="28" width="3" height="1" fill="#c0c0c0" />
<rect x="1454" y="29" width="1" height="1" fill="#c0c0c0" />
</g>
<rect x="1739" y="22" width="1" height="920" fill="#e3e3e3" />
<defs>
<linearGradient id="gb" x1="0" y1="0" x2="0" y2="1"><stop offset="0" stop-color="#5454fa"/><stop offset="0.38" stop-color="#3c3ce0"/><stop offset="1" stop-color="#0202a8"/></linearGradient>
<linearGradient id="gg" x1="0" y1="0" x2="0" y2="1"><stop offset="0" stop-color="#f4f4f4"/><stop offset="0.45" stop-color="#e8e8e8"/><stop offset="0.5" stop-color="#d8d8d8"/><stop offset="1" stop-color="#cfcfcf"/></linearGradient>
</defs>
<path d="M2.800 35.500 L6.400 31.300 L10 35.500 Z" fill="#000"/>
<text x="15.500" y="36" font-size="9.600" fill="#000" textLength="62" lengthAdjust="spacingAndGlyphs">GBPJPY-,Daily</text>
<text x="84.500" y="36" font-size="9.600" fill="#000" textLength="140" lengthAdjust="spacingAndGlyphs">140.697 141.423 140.102 141.133</text>
<rect x="1" y="42" width="223" height="68" fill="#ffffff" shape-rendering="crispEdges"/>
<path d="M3.500 44.500 H54.500 V68.500 H111.500 V107.500 H3.500 Z" fill="url(#gb)" stroke="#0808b8" stroke-width="1" shape-rendering="crispEdges"/>
<path d="M221.500 44.500 H170.500 V68.500 H114.500 V107.500 H221.500 Z" fill="url(#gb)" stroke="#0808b8" stroke-width="1" shape-rendering="crispEdges"/>
<g shape-rendering="crispEdges"><rect x="7" y="67" width="45" height="1" fill="#1c1ca8"/><rect x="7" y="68" width="45" height="1" fill="#6c6cf0"/><rect x="174" y="67" width="45" height="1" fill="#1c1ca8"/><rect x="174" y="68" width="45" height="1" fill="#6c6cf0"/></g>
<g shape-rendering="crispEdges"><rect x="57.500" y="44.500" width="110" height="21" fill="#fff" stroke="#a8a8a8" stroke-width="1"/><rect x="58.500" y="45.500" width="19" height="19" fill="url(#gg)" stroke="#c8c8c8" stroke-width="1"/><rect x="147.500" y="45.500" width="19" height="19" fill="url(#gg)" stroke="#c8c8c8" stroke-width="1"/><rect x="78" y="45" width="1" height="20" fill="#a8a8a8"/><rect x="146" y="45" width="1" height="20" fill="#a8a8a8"/></g>
<path d="M65 53 h6 l-3 3.500 z" fill="#4a5ac8"/><path d="M154 56.500 h6 l-3 -3.500 z" fill="#4a5ac8"/>
<text x="143" y="59.500" font-size="12.300" fill="#000" text-anchor="end">1.00</text>
<text x="15.700" y="60" font-size="12.300" fill="#fff" textLength="25.400" lengthAdjust="spacingAndGlyphs">SELL</text>
<text x="183.200" y="60" font-size="12.300" fill="#fff" textLength="24" lengthAdjust="spacingAndGlyphs">BUY</text>
<text x="26.400" y="99" font-size="12.300" font-weight="bold" fill="#fff" textLength="20.400" lengthAdjust="spacingAndGlyphs">141</text>
<text x="51.500" y="99" font-size="33.500" fill="#fff" textLength="32.500" lengthAdjust="spacingAndGlyphs">13</text>
<text x="90.800" y="82.800" font-size="11.500" font-weight="bold" fill="#fff" textLength="6.200" lengthAdjust="spacingAndGlyphs">3</text>
<text x="136.600" y="99" font-size="12.300" font-weight="bold" fill="#fff" textLength="20.400" lengthAdjust="spacingAndGlyphs">141</text>
<text x="162.500" y="99" font-size="33.500" fill="#fff" textLength="33" lengthAdjust="spacingAndGlyphs">16</text>
<text x="201.800" y="82.800" font-size="11.500" font-weight="bold" fill="#fff" textLength="6.200" lengthAdjust="spacingAndGlyphs">7</text>
<g shape-rendering="crispEdges"><rect x="0" y="0" width="1740" height="19" fill="#f0f0f0"/><rect x="0" y="19" width="1740" height="1" fill="#f7f7f7"/><rect x="0" y="20" width="1740" height="1" fill="#a0a0a0"/><rect x="0" y="21" width="1740" height="1" fill="#696969"/><rect x="0" y="22" width="1740" height="2" fill="#ffffff"/></g>
<rect x="1.5" y="1.5" width="15" height="13" rx="1.5" fill="#fff" stroke="#3b78c4" stroke-width="1.4"/><rect x="2" y="2" width="3" height="12" fill="#5b6f8f"/><g shape-rendering="crispEdges"><rect x="6" y="3" width="1" height="1" fill="#e00"/><rect x="6" y="5" width="1" height="1" fill="#000"/><rect x="6" y="7" width="1" height="1" fill="#000"/><rect x="6" y="9" width="1" height="1" fill="#e00"/><rect x="8" y="3" width="7" height="1" fill="#b8c8f0"/><rect x="8" y="5" width="7" height="1" fill="#b8c8f0"/><rect x="8" y="7" width="7" height="1" fill="#b8c8f0"/><rect x="8" y="9" width="7" height="1" fill="#b8c8f0"/><rect x="8" y="11" width="7" height="1" fill="#b8c8f0"/></g>
<rect x="29.5" y="0.5" width="11" height="13" fill="#f4f2ec" stroke="#b0a898" stroke-width="1"/><path d="M32 3 v7 M35 2 v5 M38 3 v6" stroke="#8890a0" stroke-width="1" fill="none"/><path d="M41 11.5 L46 16.5" stroke="#c89a20" stroke-width="2.2" stroke-linecap="round"/><circle cx="37" cy="7.5" r="5" fill="#cfe2f8" fill-opacity="0.8" stroke="#7aa6e0" stroke-width="1.2"/>
<rect x="54" y="0" width="1" height="18" fill="#a0a0a0"/><rect x="55" y="0" width="1" height="18" fill="#ffffff"/>
<path d="M64.5 0.5 h8 l3.500 3.500 v9.500 h-11.500 z" fill="#fcfcfc" stroke="#909090" stroke-width="1"/><path d="M66.5 3.500 h4 M66.5 6.500 h6 M66.5 9.500 h4" stroke="#707070" stroke-width="1"/><path d="M72.5 7 h3 v3.500 h3.500 v3 h-3.500 v3.500 h-3 v-3.500 h-3.500 v-3 h3.500 z" fill="#22d022" stroke="#0a8a0a" stroke-width="0.800"/>
<text x="83" y="11.300" font-size="12.300" fill="#000" textLength="36.600" lengthAdjust="spacingAndGlyphs" style="font-family:'Liberation Sans','Noto Sans CJK SC',sans-serif;">新订单</text>
<defs><linearGradient id="gbk" x1="0" y1="0" x2="1" y2="0.600"><stop offset="0" stop-color="#fbe070"/><stop offset="0.500" stop-color="#e8b030"/><stop offset="1" stop-color="#c48810"/></linearGradient></defs><path d="M131 9.300 L138.300 1.200 L147 8 L140.500 15.300 Z" fill="url(#gbk)" stroke="#a87410" stroke-width="0.800"/><path d="M131 9.300 L140.500 15.300 L140.300 17 L131 11.200 Z" fill="#a06c0c"/><path d="M140.500 15.300 L147 8 L147 9.500 L140.300 17 Z" fill="#c89020"/>
<path d="M161.500 0.500 h10 v9 h-10 z" fill="#3c98e8" stroke="#1f6fc0" stroke-width="1"/><rect x="163" y="2" width="3" height="6" fill="#a8d4f8"/><rect x="167" y="3" width="4" height="1.5" fill="#d8ecff"/><path d="M162 15.500 a3 3 0 0 1 0.500 -6 a4 4 0 0 1 7.500 -0.500 a3.200 3.200 0 0 1 1.500 6.500 z" fill="#f4f6fa" stroke="#6a86b8" stroke-width="1"/>
<path d="M195 0.500 A7.500 7.500 0 0 0 195 15.500 Z" fill="#dfe8f8"/><path d="M195 0.500 A7.500 7.500 0 0 1 195 15.500 Z" fill="#c4e6c4"/><g fill="none"><path d="M190 1.500 A8 8 0 0 0 190 13.500" stroke="#a8c0f0" stroke-width="1.200"/><path d="M192.500 3.500 A5 5 0 0 0 192.500 11.500" stroke="#4a78d8" stroke-width="1.300"/><path d="M199 1.200 A8 8 0 0 1 196.500 15.500" stroke="#58b058" stroke-width="2"/><path d="M197.500 3.500 A5 5 0 0 1 197 11.800" stroke="#8ccc8c" stroke-width="1.500"/></g><circle cx="195" cy="7.500" r="1.800" fill="#2a5ad0"/><path d="M195.500 8 V16" fill="none" stroke="#2aa02a" stroke-width="1.500"/>
<path d="M215 6.500 l4.500 9 h5 l4.500 -9 z" fill="#f4c838" stroke="#c89410" stroke-width="0.800"/><ellipse cx="222" cy="5" rx="7.800" ry="2.800" fill="#5aa8e8" stroke="#2a78c8" stroke-width="0.800"/><path d="M218.500 4.500 a3.500 4 0 0 1 7 0 z" fill="#6ab4f0" stroke="#2a78c8" stroke-width="0.800"/><circle cx="226.500" cy="11.500" r="4" fill="#e02810" stroke="#a81808" stroke-width="0.600"/><rect x="225" y="10" width="3" height="3" fill="#fff"/>
<text x="235" y="11.300" font-size="12.300" fill="#000" textLength="48" lengthAdjust="spacingAndGlyphs" style="font-family:'Liberation Sans','Noto Sans CJK SC',sans-serif;">自动交易</text>
<rect x="290" y="0" width="1" height="20" fill="#a0a0a0"/><rect x="291" y="0" width="1" height="20" fill="#ffffff"/>
<rect x="294" y="1" width="3" height="1" fill="#a8a8a8"/>
<rect x="294" y="3" width="3" height="1" fill="#a8a8a8"/>
<rect x="294" y="5" width="3" height="1" fill="#a8a8a8"/>
<rect x="294" y="7" width="3" height="1" fill="#a8a8a8"/>
<rect x="294" y="9" width="3" height="1" fill="#a8a8a8"/>
<rect x="294" y="11" width="3" height="1" fill="#a8a8a8"/>
<rect x="294" y="13" width="3" height="1" fill="#a8a8a8"/>
<rect x="294" y="15" width="3" height="1" fill="#a8a8a8"/>
<rect x="294" y="17" width="3" height="1" fill="#a8a8a8"/>
<g stroke="#555" stroke-width="1" fill="none" shape-rendering="crispEdges"><path d="M308.5 3 V16 M306 13.5 H319"/></g><path d="M308.5 1.5 l-2 2.5 h4 z M320.5 13.5 l-2.5 -2 v4 z" fill="#555"/>
<path d="M316.500 4 V10.500 M316.500 4.500 h2.500 M316.500 10.500 h-3" stroke="#18a018" stroke-width="1.300" fill="none" shape-rendering="crispEdges"/>
<rect x="328" y="0" width="1" height="18" fill="#a0a0a0"/><rect x="329" y="0" width="1" height="18" fill="#ffffff"/>
<rect x="330" y="0" width="24" height="19" fill="#f8f8f8"/>
<g stroke="#555" stroke-width="1" fill="none" shape-rendering="crispEdges"><path d="M336.5 3 V16 M334 13.5 H347"/></g><path d="M336.5 1.5 l-2 2.5 h4 z M348.5 13.5 l-2.5 -2 v4 z" fill="#555"/>
<g shape-rendering="crispEdges"><rect x="342" y="0" width="1" height="12" fill="#0a8a0a"/><rect x="340" y="3" width="5" height="7" fill="#28d828" stroke="#0a8a0a" stroke-width="1"/></g>
<g stroke="#555" stroke-width="1" fill="none" shape-rendering="crispEdges"><path d="M364.5 3 V16 M362 13.5 H375"/></g><path d="M364.5 1.5 l-2 2.5 h4 z M376.5 13.5 l-2.5 -2 v4 z" fill="#555"/>
<path d="M363.500 10.500 C366 7.500 368 4.500 370 5 S373.500 8 375 9.500" stroke="#18a018" stroke-width="1.200" fill="none"/>
<rect x="385" y="0" width="1" height="18" fill="#a0a0a0"/><rect x="386" y="0" width="1" height="18" fill="#ffffff"/>
<path d="M404 10 L409.5 15.500" stroke="#c8a020" stroke-width="2.600" stroke-linecap="round"/><path d="M404.5 10.500 L409 15" stroke="#f0d860" stroke-width="1" stroke-linecap="round"/><circle cx="400" cy="6" r="5.300" fill="#d4e8fa" stroke="#3a80d0" stroke-width="1.400"/><path d="M397 6 h6 M400 3 v6" stroke="#3a78b8" stroke-width="1.600"/>
<path d="M432 10 L437.5 15.500" stroke="#c8a020" stroke-width="2.600" stroke-linecap="round"/><path d="M432.5 10.500 L437 15" stroke="#f0d860" stroke-width="1" stroke-linecap="round"/><circle cx="428" cy="6" r="5.300" fill="#d4e8fa" stroke="#3a80d0" stroke-width="1.400"/><path d="M425 6 h6 " stroke="#3a78b8" stroke-width="1.600"/>
<g shape-rendering="crispEdges"><rect x="450" y="0" width="8" height="8" fill="#48a828"/><rect x="458" y="0" width="8" height="8" fill="#2858d8"/><rect x="450" y="8" width="8" height="8" fill="#2858d8"/><rect x="458" y="8" width="8" height="8" fill="#48a828"/><rect x="451" y="3" width="6" height="1" fill="#fff"/><rect x="451" y="5" width="6" height="2" fill="#e8f4e0"/><rect x="459" y="3" width="6" height="1" fill="#fff"/><rect x="459" y="5" width="6" height="2" fill="#dce6fa"/><rect x="451" y="11" width="6" height="1" fill="#fff"/><rect x="451" y="13" width="6" height="2" fill="#dce6fa"/><rect x="459" y="11" width="6" height="1" fill="#fff"/><rect x="459" y="13" width="6" height="2" fill="#e8f4e0"/></g>
<rect x="475" y="0" width="1" height="18" fill="#a0a0a0"/><rect x="476" y="0" width="1" height="18" fill="#ffffff"/>
<rect x="480" y="0" width="1" height="18" fill="#a0a0a0"/><rect x="481" y="0" width="1" height="18" fill="#ffffff"/>
<rect x="482" y="0" width="24" height="19" fill="#f8f8f8"/>
<g stroke="#555" stroke-width="1" fill="none" shape-rendering="crispEdges"><path d="M488.5 3 V16 M486 13.5 H499"/></g><path d="M488.5 1.5 l-2 2.5 h4 z M500.5 13.5 l-2.5 -2 v4 z" fill="#555"/>
<path d="M493.500 4 l4 3.500 l-4 3.500 z" fill="#38d838" stroke="#0a8a0a" stroke-width="0.800"/>
<rect x="508" y="0" width="1" height="18" fill="#a0a0a0"/><rect x="509" y="0" width="1" height="18" fill="#ffffff"/>
<rect x="510" y="0" width="24" height="19" fill="#f8f8f8"/>
<g stroke="#555" stroke-width="1" fill="none" shape-rendering="crispEdges"><path d="M516.5 3 V16 M514 13.5 H527"/></g><path d="M516.5 1.5 l-2 2.5 h4 z M528.5 13.5 l-2.5 -2 v4 z" fill="#555"/>
<rect x="522" y="2" width="1" height="10" fill="#2868c0" shape-rendering="crispEdges"/><path d="M524 7.500 h4.500 M524 7.500 l2.500 -2.500 M524 7.500 l2.500 2.500" stroke="#d83010" stroke-width="1.100" fill="none"/>
<rect x="537" y="0" width="1" height="18" fill="#a0a0a0"/><rect x="538" y="0" width="1" height="18" fill="#ffffff"/>
<path d="M547.500 0.500 h8 l3.500 3.500 v9.500 h-11.500 z" fill="#fcfcfc" stroke="#909090" stroke-width="1"/><path d="M550 4 v6 M550 5 h2" stroke="#707070" stroke-width="1" fill="none"/><path d="M555.500 7 h3 v3.500 h3.500 v3 h-3.500 v3.500 h-3 v-3.500 h-3.500 v-3 h3.500 z" fill="#22d022" stroke="#0a8a0a" stroke-width="0.800"/>
<path d="M568.7 7 h5.6 l-2.8 3.2 z" fill="#000"/>
<circle cx="593" cy="8" r="7.300" fill="#fff" stroke="#2a78d8" stroke-width="2.200"/><circle cx="593" cy="8" r="8.300" fill="none" stroke="#1a4a98" stroke-width="0.500"/><path d="M593 3.500 v5 h3" stroke="#404040" stroke-width="1.100" fill="none"/><circle cx="593" cy="12" r="0.700" fill="#88a"/>
<path d="M607.7 7 h5.6 l-2.8 3.2 z" fill="#000"/>
<rect x="624.500" y="1.500" width="15" height="13" rx="1" fill="#fff" stroke="#3b78c4" stroke-width="1.400"/><rect x="625" y="2" width="14" height="2" fill="#a8c8f0"/><rect x="625" y="8" width="14" height="1" fill="#3b78c4" shape-rendering="crispEdges"/><path d="M626.500 7 l2.500 -1.500 l2.500 0.500 l2 -1.500 l2 0.700 l2 -1.200" stroke="#b02010" stroke-width="1.100" fill="none"/><path d="M626.500 12.500 l2.500 -1 l2 0.800 l2.500 -2 l2.500 2.200" stroke="#10a010" stroke-width="1.100" fill="none"/>
<path d="M646.7 7 h5.6 l-2.8 3.2 z" fill="#000"/>
<rect x="658" y="0" width="1" height="20" fill="#a0a0a0"/><rect x="659" y="0" width="1" height="20" fill="#ffffff"/>
<rect x="662" y="1" width="3" height="1" fill="#a8a8a8"/>
<rect x="662" y="3" width="3" height="1" fill="#a8a8a8"/>
<rect x="662" y="5" width="3" height="1" fill="#a8a8a8"/>
<rect x="662" y="7" width="3" height="1" fill="#a8a8a8"/>
<rect x="662" y="9" width="3" height="1" fill="#a8a8a8"/>
<rect x="662" y="11" width="3" height="1" fill="#a8a8a8"/>
<rect x="662" y="13" width="3" height="1" fill="#a8a8a8"/>
<rect x="662" y="15" width="3" height="1" fill="#a8a8a8"/>
<rect x="662" y="17" width="3" height="1" fill="#a8a8a8"/>
<rect x="668" y="0" width="1" height="18" fill="#a0a0a0"/><rect x="669" y="0" width="1" height="18" fill="#ffffff"/>
<rect x="670" y="0" width="24" height="19" fill="#f8f8f8"/>
<path d="M676 1 v12 l3 -3 l2.200 5 l2 -0.900 l-2.200 -4.900 h4.200 z" fill="#484848"/>
<g shape-rendering="crispEdges" fill="#484848"><rect x="708" y="1" width="1" height="6"/><rect x="708" y="10" width="1" height="6"/><rect x="701" y="8" width="6" height="1"/><rect x="710" y="8" width="6" height="1"/></g>
<rect x="725" y="0" width="1" height="18" fill="#a0a0a0"/><rect x="726" y="0" width="1" height="18" fill="#ffffff"/>
<g shape-rendering="crispEdges" fill="#484848"><rect x="742" y="2" width="1" height="13"/><rect x="765" y="8" width="13" height="1"/></g>
<path d="M793 15 L805 3" stroke="#484848" stroke-width="1.100"/>
<g stroke="#484848" stroke-width="1" fill="none"><path d="M819 10.500 L829 0.500 M823 14.500 L833.500 4 M821.500 8 l1.500 6 M824.500 5 l2 6.500 M827.500 2 l2 6.500 M830 0 v3"/></g>
<text x="829.500" y="17" font-size="7.500" font-weight="bold" fill="#333">E</text>
<g stroke="#484848" stroke-width="1" stroke-dasharray="1 1" shape-rendering="crispEdges"><path d="M848 1.500 h13 M848 4.500 h13 M848 8.500 h13 M848 12.500 h9"/></g>
<text x="857.500" y="17" font-size="7.500" font-weight="bold" fill="#333">F</text>
<text x="878.500" y="13" font-size="12.500" font-weight="bold" fill="#484848" textLength="8.500" lengthAdjust="spacingAndGlyphs">A</text>
<rect x="905.500" y="2.500" width="11" height="12" fill="none" stroke="#484848" stroke-width="1" stroke-dasharray="1 1" shape-rendering="crispEdges"/>
<text x="907.300" y="13.500" font-size="12" font-weight="bold" fill="#484848" textLength="7.500" lengthAdjust="spacingAndGlyphs">T</text>
<path d="M935.500 2 l3 3 l-3 3 l-3 -3 z M942.500 9 l3.500 3 l-3.500 3 l-3.500 -3 z" fill="#484848"/><path d="M935 8 l2.500 3 l4.500 -5.500" stroke="#484848" stroke-width="1.200" fill="none"/>
<path d="M952.7 7 h5.6 l-2.8 3.2 z" fill="#000"/>
<rect x="964" y="0" width="1" height="20" fill="#a0a0a0"/><rect x="965" y="0" width="1" height="20" fill="#ffffff"/>
<rect x="968" y="1" width="3" height="1" fill="#a8a8a8"/>
<rect x="968" y="3" width="3" height="1" fill="#a8a8a8"/>
<rect x="968" y="5" width="3" height="1" fill="#a8a8a8"/>
<rect x="968" y="7" width="3" height="1" fill="#a8a8a8"/>
<rect x="968" y="9" width="3" height="1" fill="#a8a8a8"/>
<rect x="968" y="11" width="3" height="1" fill="#a8a8a8"/>
<rect x="968" y="13" width="3" height="1" fill="#a8a8a8"/>
<rect x="968" y="15" width="3" height="1" fill="#a8a8a8"/>
<rect x="968" y="17" width="3" height="1" fill="#a8a8a8"/>
<text x="979.5" y="11.800" font-size="9.600" fill="#404040" textLength="12.5" lengthAdjust="spacingAndGlyphs">M1</text>
<text x="1007.5" y="11.800" font-size="9.600" fill="#404040" textLength="12.5" lengthAdjust="spacingAndGlyphs">M5</text>
<text x="1033.5" y="11.800" font-size="9.600" fill="#404040" textLength="17.5" lengthAdjust="spacingAndGlyphs">M15</text>
<text x="1061.5" y="11.800" font-size="9.600" fill="#404040" textLength="17.5" lengthAdjust="spacingAndGlyphs">M30</text>
<text x="1092.5" y="11.800" font-size="9.600" fill="#404040" textLength="11.5" lengthAdjust="spacingAndGlyphs">H1</text>
<text x="1119.5" y="11.800" font-size="9.600" fill="#404040" textLength="12.5" lengthAdjust="spacingAndGlyphs">H4</text>
<rect x="1142" y="0" width="1" height="18" fill="#a0a0a0"/><rect x="1143" y="0" width="1" height="18" fill="#ffffff"/>
<rect x="1144" y="0" width="24" height="19" fill="#f8f8f8"/>
<text x="1148.5" y="11.800" font-size="9.600" fill="#404040" textLength="11.5" lengthAdjust="spacingAndGlyphs">D1</text>
<text x="1176" y="11.800" font-size="9.600" fill="#404040" textLength="14" lengthAdjust="spacingAndGlyphs">W1</text>
<text x="1203" y="11.800" font-size="9.600" fill="#404040" textLength="14" lengthAdjust="spacingAndGlyphs">MN</text>
<rect x="1225" y="0" width="1" height="20" fill="#a0a0a0"/><rect x="1226" y="0" width="1" height="20" fill="#ffffff"/>
<path d="M1693 7.500 L1688 12.500" stroke="#3060d8" stroke-width="2.200" stroke-linecap="round"/><circle cx="1695.700" cy="5" r="3.700" fill="#f4f4ff" stroke="#2050d0" stroke-width="1.300"/>
<g fill="#e4e6ee" stroke="#8a8a92" stroke-width="0.900"><path d="M1729.500 1 a6 5 0 1 1 -1.500 9.300 l0 2 l-2 -2.300 a6 5 0 0 1 3.500 -9 z"/><path d="M1719.500 5.500 a5 4 0 1 1 -1.500 7.500 l-2.500 1.800 l0.500 -2.500 a5 4 0 0 1 3.500 -6.800 z"/></g>
<text x="1510.500" y="148" font-size="22.800" fill="#00ff00" stroke="#00ff00" stroke-width="0.500" textLength="111.500" lengthAdjust="spacingAndGlyphs" style="font-family:'Liberation Sans','Noto Sans CJK SC',sans-serif;">多空转折点</text>
</svg>
</body></html>
